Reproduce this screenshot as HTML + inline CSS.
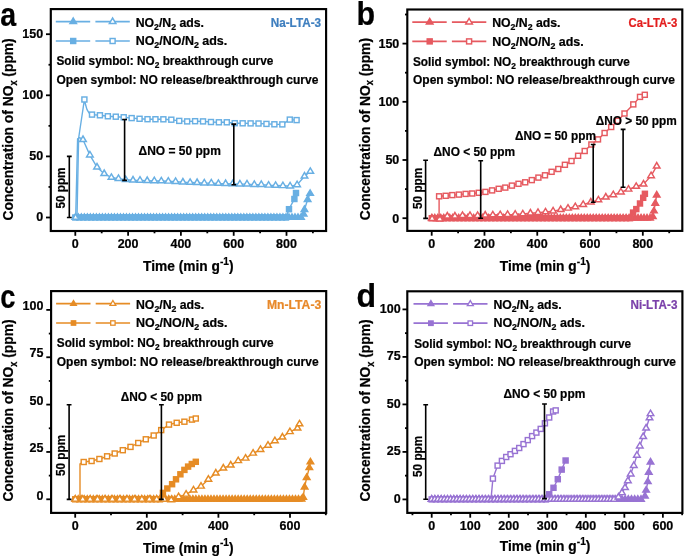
<!DOCTYPE html>
<html><head><meta charset="utf-8"><style>html,body{margin:0;padding:0;background:#fff;width:685px;height:558px;overflow:hidden}svg{display:block;will-change:transform}text{stroke-width:0.22px}</style></head>
<body>
<svg width="685" height="558" viewBox="0 0 685 558" font-family="Liberation Sans, sans-serif" font-weight="bold">
<rect width="685" height="558" fill="#fff"/>
<rect x="50.80" y="9.10" width="275.30" height="221.90" fill="none" stroke="#000" stroke-width="2.15"/>
<path d="M46.00,217.50H50.8" stroke="#000" stroke-width="1.8"/>
<text x="43.10" y="221.44" font-size="12.5" text-anchor="end" fill="#000"  stroke="#000">0</text>
<path d="M46.00,156.40H50.8" stroke="#000" stroke-width="1.8"/>
<text x="43.10" y="160.34" font-size="12.5" text-anchor="end" fill="#000"  stroke="#000">50</text>
<path d="M46.00,95.30H50.8" stroke="#000" stroke-width="1.8"/>
<text x="43.10" y="99.24" font-size="12.5" text-anchor="end" fill="#000"  stroke="#000">100</text>
<path d="M46.00,34.20H50.8" stroke="#000" stroke-width="1.8"/>
<text x="43.10" y="38.14" font-size="12.5" text-anchor="end" fill="#000"  stroke="#000">150</text>
<path d="M48.50,186.95H50.8" stroke="#000" stroke-width="1.8"/>
<path d="M48.50,125.85H50.8" stroke="#000" stroke-width="1.8"/>
<path d="M48.50,64.75H50.8" stroke="#000" stroke-width="1.8"/>
<path d="M75.30,231.0V235.80" stroke="#000" stroke-width="1.8"/>
<text x="75.30" y="248.30" font-size="12.5" text-anchor="middle" fill="#000"  stroke="#000">0</text>
<path d="M128.10,231.0V235.80" stroke="#000" stroke-width="1.8"/>
<text x="128.10" y="248.30" font-size="12.5" text-anchor="middle" fill="#000"  stroke="#000">200</text>
<path d="M180.90,231.0V235.80" stroke="#000" stroke-width="1.8"/>
<text x="180.90" y="248.30" font-size="12.5" text-anchor="middle" fill="#000"  stroke="#000">400</text>
<path d="M233.70,231.0V235.80" stroke="#000" stroke-width="1.8"/>
<text x="233.70" y="248.30" font-size="12.5" text-anchor="middle" fill="#000"  stroke="#000">600</text>
<path d="M286.50,231.0V235.80" stroke="#000" stroke-width="1.8"/>
<text x="286.50" y="248.30" font-size="12.5" text-anchor="middle" fill="#000"  stroke="#000">800</text>
<path d="M101.70,231.0V233.30" stroke="#000" stroke-width="1.8"/>
<path d="M154.50,231.0V233.30" stroke="#000" stroke-width="1.8"/>
<path d="M207.30,231.0V233.30" stroke="#000" stroke-width="1.8"/>
<path d="M260.10,231.0V233.30" stroke="#000" stroke-width="1.8"/>
<path d="M312.90,231.0V233.30" stroke="#000" stroke-width="1.8"/>
<polyline points="75.30,217.50 78.31,217.50 81.32,217.50 84.33,217.50 87.34,217.50 90.35,217.50 93.36,217.50 96.37,217.50 99.37,217.50 102.38,217.50 105.39,217.50 108.40,217.50 111.41,217.50 114.42,217.50 117.43,217.50 120.44,217.50 123.45,217.50 126.46,217.50 129.47,217.50 132.48,217.50 135.49,217.50 138.50,217.50 141.51,217.50 144.51,217.50 147.52,217.50 150.53,217.50 153.54,217.50 156.55,217.50 159.56,217.50 162.57,217.50 165.58,217.50 168.59,217.50 171.60,217.50 174.61,217.50 177.62,217.50 180.63,217.50 183.64,217.50 186.65,217.50 189.65,217.50 192.66,217.50 195.67,217.50 198.68,217.50 201.69,217.50 204.70,217.50 207.71,217.50 210.72,217.50 213.73,217.50 216.74,217.50 219.75,217.50 222.76,217.50 225.77,217.50 228.78,217.50 231.79,217.50 234.79,217.50 237.80,217.50 240.81,217.50 243.82,217.50 246.83,217.50 249.84,217.50 252.85,217.50 255.86,217.50 258.87,217.50 261.88,217.50 264.89,217.50 267.90,217.50 270.91,217.50 273.92,217.50 276.93,217.50 279.93,217.50 282.94,217.50 285.95,217.50 288.96,217.50 291.97,217.50 294.98,217.50 297.99,217.50 301.00,217.50 303.60,214.20 304.40,209.70 307.60,199.70 310.10,193.50" fill="none" stroke="#68AFE3" stroke-width="1.4" stroke-linejoin="round"/>
<path d="M72.00,219.33L75.30,213.83L78.60,219.33Z" fill="#68AFE3" stroke="#68AFE3" stroke-width="1.45" stroke-linejoin="miter"/>
<path d="M75.01,219.33L78.31,213.83L81.61,219.33Z" fill="#68AFE3" stroke="#68AFE3" stroke-width="1.45" stroke-linejoin="miter"/>
<path d="M78.02,219.33L81.32,213.83L84.62,219.33Z" fill="#68AFE3" stroke="#68AFE3" stroke-width="1.45" stroke-linejoin="miter"/>
<path d="M81.03,219.33L84.33,213.83L87.63,219.33Z" fill="#68AFE3" stroke="#68AFE3" stroke-width="1.45" stroke-linejoin="miter"/>
<path d="M84.04,219.33L87.34,213.83L90.64,219.33Z" fill="#68AFE3" stroke="#68AFE3" stroke-width="1.45" stroke-linejoin="miter"/>
<path d="M87.05,219.33L90.35,213.83L93.65,219.33Z" fill="#68AFE3" stroke="#68AFE3" stroke-width="1.45" stroke-linejoin="miter"/>
<path d="M90.06,219.33L93.36,213.83L96.66,219.33Z" fill="#68AFE3" stroke="#68AFE3" stroke-width="1.45" stroke-linejoin="miter"/>
<path d="M93.07,219.33L96.37,213.83L99.67,219.33Z" fill="#68AFE3" stroke="#68AFE3" stroke-width="1.45" stroke-linejoin="miter"/>
<path d="M96.07,219.33L99.37,213.83L102.67,219.33Z" fill="#68AFE3" stroke="#68AFE3" stroke-width="1.45" stroke-linejoin="miter"/>
<path d="M99.08,219.33L102.38,213.83L105.68,219.33Z" fill="#68AFE3" stroke="#68AFE3" stroke-width="1.45" stroke-linejoin="miter"/>
<path d="M102.09,219.33L105.39,213.83L108.69,219.33Z" fill="#68AFE3" stroke="#68AFE3" stroke-width="1.45" stroke-linejoin="miter"/>
<path d="M105.10,219.33L108.40,213.83L111.70,219.33Z" fill="#68AFE3" stroke="#68AFE3" stroke-width="1.45" stroke-linejoin="miter"/>
<path d="M108.11,219.33L111.41,213.83L114.71,219.33Z" fill="#68AFE3" stroke="#68AFE3" stroke-width="1.45" stroke-linejoin="miter"/>
<path d="M111.12,219.33L114.42,213.83L117.72,219.33Z" fill="#68AFE3" stroke="#68AFE3" stroke-width="1.45" stroke-linejoin="miter"/>
<path d="M114.13,219.33L117.43,213.83L120.73,219.33Z" fill="#68AFE3" stroke="#68AFE3" stroke-width="1.45" stroke-linejoin="miter"/>
<path d="M117.14,219.33L120.44,213.83L123.74,219.33Z" fill="#68AFE3" stroke="#68AFE3" stroke-width="1.45" stroke-linejoin="miter"/>
<path d="M120.15,219.33L123.45,213.83L126.75,219.33Z" fill="#68AFE3" stroke="#68AFE3" stroke-width="1.45" stroke-linejoin="miter"/>
<path d="M123.16,219.33L126.46,213.83L129.76,219.33Z" fill="#68AFE3" stroke="#68AFE3" stroke-width="1.45" stroke-linejoin="miter"/>
<path d="M126.17,219.33L129.47,213.83L132.77,219.33Z" fill="#68AFE3" stroke="#68AFE3" stroke-width="1.45" stroke-linejoin="miter"/>
<path d="M129.18,219.33L132.48,213.83L135.78,219.33Z" fill="#68AFE3" stroke="#68AFE3" stroke-width="1.45" stroke-linejoin="miter"/>
<path d="M132.19,219.33L135.49,213.83L138.79,219.33Z" fill="#68AFE3" stroke="#68AFE3" stroke-width="1.45" stroke-linejoin="miter"/>
<path d="M135.20,219.33L138.50,213.83L141.80,219.33Z" fill="#68AFE3" stroke="#68AFE3" stroke-width="1.45" stroke-linejoin="miter"/>
<path d="M138.21,219.33L141.51,213.83L144.81,219.33Z" fill="#68AFE3" stroke="#68AFE3" stroke-width="1.45" stroke-linejoin="miter"/>
<path d="M141.21,219.33L144.51,213.83L147.81,219.33Z" fill="#68AFE3" stroke="#68AFE3" stroke-width="1.45" stroke-linejoin="miter"/>
<path d="M144.22,219.33L147.52,213.83L150.82,219.33Z" fill="#68AFE3" stroke="#68AFE3" stroke-width="1.45" stroke-linejoin="miter"/>
<path d="M147.23,219.33L150.53,213.83L153.83,219.33Z" fill="#68AFE3" stroke="#68AFE3" stroke-width="1.45" stroke-linejoin="miter"/>
<path d="M150.24,219.33L153.54,213.83L156.84,219.33Z" fill="#68AFE3" stroke="#68AFE3" stroke-width="1.45" stroke-linejoin="miter"/>
<path d="M153.25,219.33L156.55,213.83L159.85,219.33Z" fill="#68AFE3" stroke="#68AFE3" stroke-width="1.45" stroke-linejoin="miter"/>
<path d="M156.26,219.33L159.56,213.83L162.86,219.33Z" fill="#68AFE3" stroke="#68AFE3" stroke-width="1.45" stroke-linejoin="miter"/>
<path d="M159.27,219.33L162.57,213.83L165.87,219.33Z" fill="#68AFE3" stroke="#68AFE3" stroke-width="1.45" stroke-linejoin="miter"/>
<path d="M162.28,219.33L165.58,213.83L168.88,219.33Z" fill="#68AFE3" stroke="#68AFE3" stroke-width="1.45" stroke-linejoin="miter"/>
<path d="M165.29,219.33L168.59,213.83L171.89,219.33Z" fill="#68AFE3" stroke="#68AFE3" stroke-width="1.45" stroke-linejoin="miter"/>
<path d="M168.30,219.33L171.60,213.83L174.90,219.33Z" fill="#68AFE3" stroke="#68AFE3" stroke-width="1.45" stroke-linejoin="miter"/>
<path d="M171.31,219.33L174.61,213.83L177.91,219.33Z" fill="#68AFE3" stroke="#68AFE3" stroke-width="1.45" stroke-linejoin="miter"/>
<path d="M174.32,219.33L177.62,213.83L180.92,219.33Z" fill="#68AFE3" stroke="#68AFE3" stroke-width="1.45" stroke-linejoin="miter"/>
<path d="M177.33,219.33L180.63,213.83L183.93,219.33Z" fill="#68AFE3" stroke="#68AFE3" stroke-width="1.45" stroke-linejoin="miter"/>
<path d="M180.34,219.33L183.64,213.83L186.94,219.33Z" fill="#68AFE3" stroke="#68AFE3" stroke-width="1.45" stroke-linejoin="miter"/>
<path d="M183.35,219.33L186.65,213.83L189.95,219.33Z" fill="#68AFE3" stroke="#68AFE3" stroke-width="1.45" stroke-linejoin="miter"/>
<path d="M186.35,219.33L189.65,213.83L192.95,219.33Z" fill="#68AFE3" stroke="#68AFE3" stroke-width="1.45" stroke-linejoin="miter"/>
<path d="M189.36,219.33L192.66,213.83L195.96,219.33Z" fill="#68AFE3" stroke="#68AFE3" stroke-width="1.45" stroke-linejoin="miter"/>
<path d="M192.37,219.33L195.67,213.83L198.97,219.33Z" fill="#68AFE3" stroke="#68AFE3" stroke-width="1.45" stroke-linejoin="miter"/>
<path d="M195.38,219.33L198.68,213.83L201.98,219.33Z" fill="#68AFE3" stroke="#68AFE3" stroke-width="1.45" stroke-linejoin="miter"/>
<path d="M198.39,219.33L201.69,213.83L204.99,219.33Z" fill="#68AFE3" stroke="#68AFE3" stroke-width="1.45" stroke-linejoin="miter"/>
<path d="M201.40,219.33L204.70,213.83L208.00,219.33Z" fill="#68AFE3" stroke="#68AFE3" stroke-width="1.45" stroke-linejoin="miter"/>
<path d="M204.41,219.33L207.71,213.83L211.01,219.33Z" fill="#68AFE3" stroke="#68AFE3" stroke-width="1.45" stroke-linejoin="miter"/>
<path d="M207.42,219.33L210.72,213.83L214.02,219.33Z" fill="#68AFE3" stroke="#68AFE3" stroke-width="1.45" stroke-linejoin="miter"/>
<path d="M210.43,219.33L213.73,213.83L217.03,219.33Z" fill="#68AFE3" stroke="#68AFE3" stroke-width="1.45" stroke-linejoin="miter"/>
<path d="M213.44,219.33L216.74,213.83L220.04,219.33Z" fill="#68AFE3" stroke="#68AFE3" stroke-width="1.45" stroke-linejoin="miter"/>
<path d="M216.45,219.33L219.75,213.83L223.05,219.33Z" fill="#68AFE3" stroke="#68AFE3" stroke-width="1.45" stroke-linejoin="miter"/>
<path d="M219.46,219.33L222.76,213.83L226.06,219.33Z" fill="#68AFE3" stroke="#68AFE3" stroke-width="1.45" stroke-linejoin="miter"/>
<path d="M222.47,219.33L225.77,213.83L229.07,219.33Z" fill="#68AFE3" stroke="#68AFE3" stroke-width="1.45" stroke-linejoin="miter"/>
<path d="M225.48,219.33L228.78,213.83L232.08,219.33Z" fill="#68AFE3" stroke="#68AFE3" stroke-width="1.45" stroke-linejoin="miter"/>
<path d="M228.49,219.33L231.79,213.83L235.09,219.33Z" fill="#68AFE3" stroke="#68AFE3" stroke-width="1.45" stroke-linejoin="miter"/>
<path d="M231.49,219.33L234.79,213.83L238.09,219.33Z" fill="#68AFE3" stroke="#68AFE3" stroke-width="1.45" stroke-linejoin="miter"/>
<path d="M234.50,219.33L237.80,213.83L241.10,219.33Z" fill="#68AFE3" stroke="#68AFE3" stroke-width="1.45" stroke-linejoin="miter"/>
<path d="M237.51,219.33L240.81,213.83L244.11,219.33Z" fill="#68AFE3" stroke="#68AFE3" stroke-width="1.45" stroke-linejoin="miter"/>
<path d="M240.52,219.33L243.82,213.83L247.12,219.33Z" fill="#68AFE3" stroke="#68AFE3" stroke-width="1.45" stroke-linejoin="miter"/>
<path d="M243.53,219.33L246.83,213.83L250.13,219.33Z" fill="#68AFE3" stroke="#68AFE3" stroke-width="1.45" stroke-linejoin="miter"/>
<path d="M246.54,219.33L249.84,213.83L253.14,219.33Z" fill="#68AFE3" stroke="#68AFE3" stroke-width="1.45" stroke-linejoin="miter"/>
<path d="M249.55,219.33L252.85,213.83L256.15,219.33Z" fill="#68AFE3" stroke="#68AFE3" stroke-width="1.45" stroke-linejoin="miter"/>
<path d="M252.56,219.33L255.86,213.83L259.16,219.33Z" fill="#68AFE3" stroke="#68AFE3" stroke-width="1.45" stroke-linejoin="miter"/>
<path d="M255.57,219.33L258.87,213.83L262.17,219.33Z" fill="#68AFE3" stroke="#68AFE3" stroke-width="1.45" stroke-linejoin="miter"/>
<path d="M258.58,219.33L261.88,213.83L265.18,219.33Z" fill="#68AFE3" stroke="#68AFE3" stroke-width="1.45" stroke-linejoin="miter"/>
<path d="M261.59,219.33L264.89,213.83L268.19,219.33Z" fill="#68AFE3" stroke="#68AFE3" stroke-width="1.45" stroke-linejoin="miter"/>
<path d="M264.60,219.33L267.90,213.83L271.20,219.33Z" fill="#68AFE3" stroke="#68AFE3" stroke-width="1.45" stroke-linejoin="miter"/>
<path d="M267.61,219.33L270.91,213.83L274.21,219.33Z" fill="#68AFE3" stroke="#68AFE3" stroke-width="1.45" stroke-linejoin="miter"/>
<path d="M270.62,219.33L273.92,213.83L277.22,219.33Z" fill="#68AFE3" stroke="#68AFE3" stroke-width="1.45" stroke-linejoin="miter"/>
<path d="M273.63,219.33L276.93,213.83L280.23,219.33Z" fill="#68AFE3" stroke="#68AFE3" stroke-width="1.45" stroke-linejoin="miter"/>
<path d="M276.63,219.33L279.93,213.83L283.23,219.33Z" fill="#68AFE3" stroke="#68AFE3" stroke-width="1.45" stroke-linejoin="miter"/>
<path d="M279.64,219.33L282.94,213.83L286.24,219.33Z" fill="#68AFE3" stroke="#68AFE3" stroke-width="1.45" stroke-linejoin="miter"/>
<path d="M282.65,219.33L285.95,213.83L289.25,219.33Z" fill="#68AFE3" stroke="#68AFE3" stroke-width="1.45" stroke-linejoin="miter"/>
<path d="M285.66,219.33L288.96,213.83L292.26,219.33Z" fill="#68AFE3" stroke="#68AFE3" stroke-width="1.45" stroke-linejoin="miter"/>
<path d="M288.67,219.33L291.97,213.83L295.27,219.33Z" fill="#68AFE3" stroke="#68AFE3" stroke-width="1.45" stroke-linejoin="miter"/>
<path d="M291.68,219.33L294.98,213.83L298.28,219.33Z" fill="#68AFE3" stroke="#68AFE3" stroke-width="1.45" stroke-linejoin="miter"/>
<path d="M294.69,219.33L297.99,213.83L301.29,219.33Z" fill="#68AFE3" stroke="#68AFE3" stroke-width="1.45" stroke-linejoin="miter"/>
<path d="M297.70,219.33L301.00,213.83L304.30,219.33Z" fill="#68AFE3" stroke="#68AFE3" stroke-width="1.45" stroke-linejoin="miter"/>
<path d="M300.30,216.03L303.60,210.53L306.90,216.03Z" fill="#68AFE3" stroke="#68AFE3" stroke-width="1.45" stroke-linejoin="miter"/>
<path d="M301.10,211.53L304.40,206.03L307.70,211.53Z" fill="#68AFE3" stroke="#68AFE3" stroke-width="1.45" stroke-linejoin="miter"/>
<path d="M304.30,201.53L307.60,196.03L310.90,201.53Z" fill="#68AFE3" stroke="#68AFE3" stroke-width="1.45" stroke-linejoin="miter"/>
<path d="M306.80,195.33L310.10,189.83L313.40,195.33Z" fill="#68AFE3" stroke="#68AFE3" stroke-width="1.45" stroke-linejoin="miter"/>
<polyline points="75.30,217.50 79.28,217.50 83.25,217.50 87.23,217.50 91.20,217.50 95.18,217.50 99.15,217.50 103.13,217.50 107.10,217.50 111.08,217.50 115.05,217.50 119.03,217.50 123.01,217.50 126.98,217.50 130.96,217.50 134.93,217.50 138.91,217.50 142.88,217.50 146.86,217.50 150.83,217.50 154.81,217.50 158.78,217.50 162.76,217.50 166.74,217.50 170.71,217.50 174.69,217.50 178.66,217.50 182.64,217.50 186.61,217.50 190.59,217.50 194.56,217.50 198.54,217.50 202.52,217.50 206.49,217.50 210.47,217.50 214.44,217.50 218.42,217.50 222.39,217.50 226.37,217.50 230.34,217.50 234.32,217.50 238.29,217.50 242.27,217.50 246.25,217.50 250.22,217.50 254.20,217.50 258.17,217.50 262.15,217.50 266.12,217.50 270.10,217.50 274.07,217.50 278.05,217.50 282.02,217.50 286.00,217.50 289.00,209.20 294.40,199.00 296.00,193.00" fill="none" stroke="#68AFE3" stroke-width="1.4" stroke-linejoin="round"/>
<rect x="72.80" y="215.00" width="5.0" height="5.0" fill="#68AFE3" stroke="#68AFE3" stroke-width="1.45"/>
<rect x="76.78" y="215.00" width="5.0" height="5.0" fill="#68AFE3" stroke="#68AFE3" stroke-width="1.45"/>
<rect x="80.75" y="215.00" width="5.0" height="5.0" fill="#68AFE3" stroke="#68AFE3" stroke-width="1.45"/>
<rect x="84.73" y="215.00" width="5.0" height="5.0" fill="#68AFE3" stroke="#68AFE3" stroke-width="1.45"/>
<rect x="88.70" y="215.00" width="5.0" height="5.0" fill="#68AFE3" stroke="#68AFE3" stroke-width="1.45"/>
<rect x="92.68" y="215.00" width="5.0" height="5.0" fill="#68AFE3" stroke="#68AFE3" stroke-width="1.45"/>
<rect x="96.65" y="215.00" width="5.0" height="5.0" fill="#68AFE3" stroke="#68AFE3" stroke-width="1.45"/>
<rect x="100.63" y="215.00" width="5.0" height="5.0" fill="#68AFE3" stroke="#68AFE3" stroke-width="1.45"/>
<rect x="104.60" y="215.00" width="5.0" height="5.0" fill="#68AFE3" stroke="#68AFE3" stroke-width="1.45"/>
<rect x="108.58" y="215.00" width="5.0" height="5.0" fill="#68AFE3" stroke="#68AFE3" stroke-width="1.45"/>
<rect x="112.55" y="215.00" width="5.0" height="5.0" fill="#68AFE3" stroke="#68AFE3" stroke-width="1.45"/>
<rect x="116.53" y="215.00" width="5.0" height="5.0" fill="#68AFE3" stroke="#68AFE3" stroke-width="1.45"/>
<rect x="120.51" y="215.00" width="5.0" height="5.0" fill="#68AFE3" stroke="#68AFE3" stroke-width="1.45"/>
<rect x="124.48" y="215.00" width="5.0" height="5.0" fill="#68AFE3" stroke="#68AFE3" stroke-width="1.45"/>
<rect x="128.46" y="215.00" width="5.0" height="5.0" fill="#68AFE3" stroke="#68AFE3" stroke-width="1.45"/>
<rect x="132.43" y="215.00" width="5.0" height="5.0" fill="#68AFE3" stroke="#68AFE3" stroke-width="1.45"/>
<rect x="136.41" y="215.00" width="5.0" height="5.0" fill="#68AFE3" stroke="#68AFE3" stroke-width="1.45"/>
<rect x="140.38" y="215.00" width="5.0" height="5.0" fill="#68AFE3" stroke="#68AFE3" stroke-width="1.45"/>
<rect x="144.36" y="215.00" width="5.0" height="5.0" fill="#68AFE3" stroke="#68AFE3" stroke-width="1.45"/>
<rect x="148.33" y="215.00" width="5.0" height="5.0" fill="#68AFE3" stroke="#68AFE3" stroke-width="1.45"/>
<rect x="152.31" y="215.00" width="5.0" height="5.0" fill="#68AFE3" stroke="#68AFE3" stroke-width="1.45"/>
<rect x="156.28" y="215.00" width="5.0" height="5.0" fill="#68AFE3" stroke="#68AFE3" stroke-width="1.45"/>
<rect x="160.26" y="215.00" width="5.0" height="5.0" fill="#68AFE3" stroke="#68AFE3" stroke-width="1.45"/>
<rect x="164.24" y="215.00" width="5.0" height="5.0" fill="#68AFE3" stroke="#68AFE3" stroke-width="1.45"/>
<rect x="168.21" y="215.00" width="5.0" height="5.0" fill="#68AFE3" stroke="#68AFE3" stroke-width="1.45"/>
<rect x="172.19" y="215.00" width="5.0" height="5.0" fill="#68AFE3" stroke="#68AFE3" stroke-width="1.45"/>
<rect x="176.16" y="215.00" width="5.0" height="5.0" fill="#68AFE3" stroke="#68AFE3" stroke-width="1.45"/>
<rect x="180.14" y="215.00" width="5.0" height="5.0" fill="#68AFE3" stroke="#68AFE3" stroke-width="1.45"/>
<rect x="184.11" y="215.00" width="5.0" height="5.0" fill="#68AFE3" stroke="#68AFE3" stroke-width="1.45"/>
<rect x="188.09" y="215.00" width="5.0" height="5.0" fill="#68AFE3" stroke="#68AFE3" stroke-width="1.45"/>
<rect x="192.06" y="215.00" width="5.0" height="5.0" fill="#68AFE3" stroke="#68AFE3" stroke-width="1.45"/>
<rect x="196.04" y="215.00" width="5.0" height="5.0" fill="#68AFE3" stroke="#68AFE3" stroke-width="1.45"/>
<rect x="200.02" y="215.00" width="5.0" height="5.0" fill="#68AFE3" stroke="#68AFE3" stroke-width="1.45"/>
<rect x="203.99" y="215.00" width="5.0" height="5.0" fill="#68AFE3" stroke="#68AFE3" stroke-width="1.45"/>
<rect x="207.97" y="215.00" width="5.0" height="5.0" fill="#68AFE3" stroke="#68AFE3" stroke-width="1.45"/>
<rect x="211.94" y="215.00" width="5.0" height="5.0" fill="#68AFE3" stroke="#68AFE3" stroke-width="1.45"/>
<rect x="215.92" y="215.00" width="5.0" height="5.0" fill="#68AFE3" stroke="#68AFE3" stroke-width="1.45"/>
<rect x="219.89" y="215.00" width="5.0" height="5.0" fill="#68AFE3" stroke="#68AFE3" stroke-width="1.45"/>
<rect x="223.87" y="215.00" width="5.0" height="5.0" fill="#68AFE3" stroke="#68AFE3" stroke-width="1.45"/>
<rect x="227.84" y="215.00" width="5.0" height="5.0" fill="#68AFE3" stroke="#68AFE3" stroke-width="1.45"/>
<rect x="231.82" y="215.00" width="5.0" height="5.0" fill="#68AFE3" stroke="#68AFE3" stroke-width="1.45"/>
<rect x="235.79" y="215.00" width="5.0" height="5.0" fill="#68AFE3" stroke="#68AFE3" stroke-width="1.45"/>
<rect x="239.77" y="215.00" width="5.0" height="5.0" fill="#68AFE3" stroke="#68AFE3" stroke-width="1.45"/>
<rect x="243.75" y="215.00" width="5.0" height="5.0" fill="#68AFE3" stroke="#68AFE3" stroke-width="1.45"/>
<rect x="247.72" y="215.00" width="5.0" height="5.0" fill="#68AFE3" stroke="#68AFE3" stroke-width="1.45"/>
<rect x="251.70" y="215.00" width="5.0" height="5.0" fill="#68AFE3" stroke="#68AFE3" stroke-width="1.45"/>
<rect x="255.67" y="215.00" width="5.0" height="5.0" fill="#68AFE3" stroke="#68AFE3" stroke-width="1.45"/>
<rect x="259.65" y="215.00" width="5.0" height="5.0" fill="#68AFE3" stroke="#68AFE3" stroke-width="1.45"/>
<rect x="263.62" y="215.00" width="5.0" height="5.0" fill="#68AFE3" stroke="#68AFE3" stroke-width="1.45"/>
<rect x="267.60" y="215.00" width="5.0" height="5.0" fill="#68AFE3" stroke="#68AFE3" stroke-width="1.45"/>
<rect x="271.57" y="215.00" width="5.0" height="5.0" fill="#68AFE3" stroke="#68AFE3" stroke-width="1.45"/>
<rect x="275.55" y="215.00" width="5.0" height="5.0" fill="#68AFE3" stroke="#68AFE3" stroke-width="1.45"/>
<rect x="279.52" y="215.00" width="5.0" height="5.0" fill="#68AFE3" stroke="#68AFE3" stroke-width="1.45"/>
<rect x="283.50" y="215.00" width="5.0" height="5.0" fill="#68AFE3" stroke="#68AFE3" stroke-width="1.45"/>
<rect x="286.50" y="206.70" width="5.0" height="5.0" fill="#68AFE3" stroke="#68AFE3" stroke-width="1.45"/>
<rect x="291.90" y="196.50" width="5.0" height="5.0" fill="#68AFE3" stroke="#68AFE3" stroke-width="1.45"/>
<rect x="293.50" y="190.50" width="5.0" height="5.0" fill="#68AFE3" stroke="#68AFE3" stroke-width="1.45"/>
<polyline points="75.70,217.50 77.60,138.80 79.60,137.60 83.00,139.70 89.90,155.10 97.00,167.20 104.20,173.70 111.40,177.50 118.50,178.60 125.70,179.80 133.00,180.20 140.00,180.40 147.20,180.70 154.30,180.90 161.30,181.00 168.30,181.30 175.60,181.60 182.90,182.20 190.10,182.50 197.10,182.70 204.30,183.10 211.30,183.10 218.40,183.50 225.60,183.70 232.70,183.90 239.90,184.10 247.00,184.10 254.30,184.60 261.30,184.60 268.60,185.30 275.60,185.50 282.90,185.80 290.10,186.10 297.10,184.90 304.50,176.20 310.30,171.50" fill="none" stroke="#68AFE3" stroke-width="1.4" stroke-linejoin="round"/>
<path d="M72.40,219.33L75.70,213.83L79.00,219.33Z" fill="#fff" stroke="#68AFE3" stroke-width="1.45" stroke-linejoin="miter"/>
<path d="M79.70,141.53L83.00,136.03L86.30,141.53Z" fill="#fff" stroke="#68AFE3" stroke-width="1.45" stroke-linejoin="miter"/>
<path d="M86.60,156.93L89.90,151.43L93.20,156.93Z" fill="#fff" stroke="#68AFE3" stroke-width="1.45" stroke-linejoin="miter"/>
<path d="M93.70,169.03L97.00,163.53L100.30,169.03Z" fill="#fff" stroke="#68AFE3" stroke-width="1.45" stroke-linejoin="miter"/>
<path d="M100.90,175.53L104.20,170.03L107.50,175.53Z" fill="#fff" stroke="#68AFE3" stroke-width="1.45" stroke-linejoin="miter"/>
<path d="M108.10,179.33L111.40,173.83L114.70,179.33Z" fill="#fff" stroke="#68AFE3" stroke-width="1.45" stroke-linejoin="miter"/>
<path d="M115.20,180.43L118.50,174.93L121.80,180.43Z" fill="#fff" stroke="#68AFE3" stroke-width="1.45" stroke-linejoin="miter"/>
<path d="M122.40,181.63L125.70,176.13L129.00,181.63Z" fill="#fff" stroke="#68AFE3" stroke-width="1.45" stroke-linejoin="miter"/>
<path d="M129.70,182.03L133.00,176.53L136.30,182.03Z" fill="#fff" stroke="#68AFE3" stroke-width="1.45" stroke-linejoin="miter"/>
<path d="M136.70,182.23L140.00,176.73L143.30,182.23Z" fill="#fff" stroke="#68AFE3" stroke-width="1.45" stroke-linejoin="miter"/>
<path d="M143.90,182.53L147.20,177.03L150.50,182.53Z" fill="#fff" stroke="#68AFE3" stroke-width="1.45" stroke-linejoin="miter"/>
<path d="M151.00,182.73L154.30,177.23L157.60,182.73Z" fill="#fff" stroke="#68AFE3" stroke-width="1.45" stroke-linejoin="miter"/>
<path d="M158.00,182.83L161.30,177.33L164.60,182.83Z" fill="#fff" stroke="#68AFE3" stroke-width="1.45" stroke-linejoin="miter"/>
<path d="M165.00,183.13L168.30,177.63L171.60,183.13Z" fill="#fff" stroke="#68AFE3" stroke-width="1.45" stroke-linejoin="miter"/>
<path d="M172.30,183.43L175.60,177.93L178.90,183.43Z" fill="#fff" stroke="#68AFE3" stroke-width="1.45" stroke-linejoin="miter"/>
<path d="M179.60,184.03L182.90,178.53L186.20,184.03Z" fill="#fff" stroke="#68AFE3" stroke-width="1.45" stroke-linejoin="miter"/>
<path d="M186.80,184.33L190.10,178.83L193.40,184.33Z" fill="#fff" stroke="#68AFE3" stroke-width="1.45" stroke-linejoin="miter"/>
<path d="M193.80,184.53L197.10,179.03L200.40,184.53Z" fill="#fff" stroke="#68AFE3" stroke-width="1.45" stroke-linejoin="miter"/>
<path d="M201.00,184.93L204.30,179.43L207.60,184.93Z" fill="#fff" stroke="#68AFE3" stroke-width="1.45" stroke-linejoin="miter"/>
<path d="M208.00,184.93L211.30,179.43L214.60,184.93Z" fill="#fff" stroke="#68AFE3" stroke-width="1.45" stroke-linejoin="miter"/>
<path d="M215.10,185.33L218.40,179.83L221.70,185.33Z" fill="#fff" stroke="#68AFE3" stroke-width="1.45" stroke-linejoin="miter"/>
<path d="M222.30,185.53L225.60,180.03L228.90,185.53Z" fill="#fff" stroke="#68AFE3" stroke-width="1.45" stroke-linejoin="miter"/>
<path d="M229.40,185.73L232.70,180.23L236.00,185.73Z" fill="#fff" stroke="#68AFE3" stroke-width="1.45" stroke-linejoin="miter"/>
<path d="M236.60,185.93L239.90,180.43L243.20,185.93Z" fill="#fff" stroke="#68AFE3" stroke-width="1.45" stroke-linejoin="miter"/>
<path d="M243.70,185.93L247.00,180.43L250.30,185.93Z" fill="#fff" stroke="#68AFE3" stroke-width="1.45" stroke-linejoin="miter"/>
<path d="M251.00,186.43L254.30,180.93L257.60,186.43Z" fill="#fff" stroke="#68AFE3" stroke-width="1.45" stroke-linejoin="miter"/>
<path d="M258.00,186.43L261.30,180.93L264.60,186.43Z" fill="#fff" stroke="#68AFE3" stroke-width="1.45" stroke-linejoin="miter"/>
<path d="M265.30,187.13L268.60,181.63L271.90,187.13Z" fill="#fff" stroke="#68AFE3" stroke-width="1.45" stroke-linejoin="miter"/>
<path d="M272.30,187.33L275.60,181.83L278.90,187.33Z" fill="#fff" stroke="#68AFE3" stroke-width="1.45" stroke-linejoin="miter"/>
<path d="M279.60,187.63L282.90,182.13L286.20,187.63Z" fill="#fff" stroke="#68AFE3" stroke-width="1.45" stroke-linejoin="miter"/>
<path d="M286.80,187.93L290.10,182.43L293.40,187.93Z" fill="#fff" stroke="#68AFE3" stroke-width="1.45" stroke-linejoin="miter"/>
<path d="M293.80,186.73L297.10,181.23L300.40,186.73Z" fill="#fff" stroke="#68AFE3" stroke-width="1.45" stroke-linejoin="miter"/>
<path d="M301.20,178.03L304.50,172.53L307.80,178.03Z" fill="#fff" stroke="#68AFE3" stroke-width="1.45" stroke-linejoin="miter"/>
<path d="M307.00,173.33L310.30,167.83L313.60,173.33Z" fill="#fff" stroke="#68AFE3" stroke-width="1.45" stroke-linejoin="miter"/>
<polyline points="77.00,217.50 78.60,138.50 84.40,99.50 85.60,104.80 87.00,109.60 89.00,112.90 92.00,114.60 92.00,114.60 99.93,115.28 107.86,116.27 115.79,116.69 123.72,117.27 131.65,118.09 139.58,118.77 147.51,119.19 155.44,119.25 163.37,119.30 171.30,119.69 179.23,120.89 187.16,121.40 195.09,121.20 203.02,121.40 210.95,122.01 218.88,122.30 226.81,122.30 234.74,123.20 242.67,123.30 250.60,123.39 258.53,123.50 266.46,123.91 274.39,124.29 282.32,124.40 289.80,119.60 296.60,120.10" fill="none" stroke="#68AFE3" stroke-width="1.4" stroke-linejoin="round"/>
<rect x="81.90" y="97.00" width="5.0" height="5.0" fill="#fff" stroke="#68AFE3" stroke-width="1.45"/>
<rect x="89.50" y="112.10" width="5.0" height="5.0" fill="#fff" stroke="#68AFE3" stroke-width="1.45"/>
<rect x="97.43" y="112.78" width="5.0" height="5.0" fill="#fff" stroke="#68AFE3" stroke-width="1.45"/>
<rect x="105.36" y="113.77" width="5.0" height="5.0" fill="#fff" stroke="#68AFE3" stroke-width="1.45"/>
<rect x="113.29" y="114.19" width="5.0" height="5.0" fill="#fff" stroke="#68AFE3" stroke-width="1.45"/>
<rect x="121.22" y="114.77" width="5.0" height="5.0" fill="#fff" stroke="#68AFE3" stroke-width="1.45"/>
<rect x="129.15" y="115.59" width="5.0" height="5.0" fill="#fff" stroke="#68AFE3" stroke-width="1.45"/>
<rect x="137.08" y="116.27" width="5.0" height="5.0" fill="#fff" stroke="#68AFE3" stroke-width="1.45"/>
<rect x="145.01" y="116.69" width="5.0" height="5.0" fill="#fff" stroke="#68AFE3" stroke-width="1.45"/>
<rect x="152.94" y="116.75" width="5.0" height="5.0" fill="#fff" stroke="#68AFE3" stroke-width="1.45"/>
<rect x="160.87" y="116.80" width="5.0" height="5.0" fill="#fff" stroke="#68AFE3" stroke-width="1.45"/>
<rect x="168.80" y="117.19" width="5.0" height="5.0" fill="#fff" stroke="#68AFE3" stroke-width="1.45"/>
<rect x="176.73" y="118.39" width="5.0" height="5.0" fill="#fff" stroke="#68AFE3" stroke-width="1.45"/>
<rect x="184.66" y="118.90" width="5.0" height="5.0" fill="#fff" stroke="#68AFE3" stroke-width="1.45"/>
<rect x="192.59" y="118.70" width="5.0" height="5.0" fill="#fff" stroke="#68AFE3" stroke-width="1.45"/>
<rect x="200.52" y="118.90" width="5.0" height="5.0" fill="#fff" stroke="#68AFE3" stroke-width="1.45"/>
<rect x="208.45" y="119.51" width="5.0" height="5.0" fill="#fff" stroke="#68AFE3" stroke-width="1.45"/>
<rect x="216.38" y="119.80" width="5.0" height="5.0" fill="#fff" stroke="#68AFE3" stroke-width="1.45"/>
<rect x="224.31" y="119.80" width="5.0" height="5.0" fill="#fff" stroke="#68AFE3" stroke-width="1.45"/>
<rect x="232.24" y="120.70" width="5.0" height="5.0" fill="#fff" stroke="#68AFE3" stroke-width="1.45"/>
<rect x="240.17" y="120.80" width="5.0" height="5.0" fill="#fff" stroke="#68AFE3" stroke-width="1.45"/>
<rect x="248.10" y="120.89" width="5.0" height="5.0" fill="#fff" stroke="#68AFE3" stroke-width="1.45"/>
<rect x="256.03" y="121.00" width="5.0" height="5.0" fill="#fff" stroke="#68AFE3" stroke-width="1.45"/>
<rect x="263.96" y="121.41" width="5.0" height="5.0" fill="#fff" stroke="#68AFE3" stroke-width="1.45"/>
<rect x="271.89" y="121.79" width="5.0" height="5.0" fill="#fff" stroke="#68AFE3" stroke-width="1.45"/>
<rect x="279.82" y="121.90" width="5.0" height="5.0" fill="#fff" stroke="#68AFE3" stroke-width="1.45"/>
<rect x="287.30" y="117.10" width="5.0" height="5.0" fill="#fff" stroke="#68AFE3" stroke-width="1.45"/>
<rect x="294.10" y="117.60" width="5.0" height="5.0" fill="#fff" stroke="#68AFE3" stroke-width="1.45"/>
<path d="M69.30,156.40V217.50M66.90,156.40H71.70M66.90,217.50H71.70" stroke="#000" stroke-width="1.6" fill="none"/>
<path d="M124.60,119.50V180.40M122.20,119.50H127.00M122.20,180.40H127.00" stroke="#000" stroke-width="1.6" fill="none"/>
<path d="M233.80,124.10V184.80M231.40,124.10H236.20M231.40,184.80H236.20" stroke="#000" stroke-width="1.6" fill="none"/>
<text x="138.60" y="155.20" font-size="12.4" text-anchor="start" fill="#000" textLength="82.20" lengthAdjust="spacingAndGlyphs"  stroke="#000">ΔNO = 50 ppm</text>
<text transform="translate(64.9,208.5) rotate(-90)" font-size="12.2" textLength="41" lengthAdjust="spacingAndGlyphs" stroke="#000">50 ppm</text>
<path d="M55.80,21.70H90.20M95.40,21.70H129.80" stroke="#68AFE3" stroke-width="1.7"/>
<g transform="translate(73.20,21.70) scale(1.0)"><path d="M-3.30,1.83L0.00,-3.67L3.30,1.83Z" fill="#68AFE3" stroke="#68AFE3" stroke-width="1.45" stroke-linejoin="miter"/></g>
<g transform="translate(112.60,21.70) scale(1.0)"><path d="M-3.30,1.83L0.00,-3.67L3.30,1.83Z" fill="#fff" stroke="#68AFE3" stroke-width="1.45" stroke-linejoin="miter"/></g>
<path d="M55.80,41.00H90.20M95.40,41.00H129.80" stroke="#68AFE3" stroke-width="1.7"/>
<g transform="translate(73.20,41.00) scale(1.0)"><rect x="-2.50" y="-2.50" width="5.0" height="5.0" fill="#68AFE3" stroke="#68AFE3" stroke-width="1.45"/></g>
<g transform="translate(112.60,41.00) scale(1.0)"><rect x="-2.50" y="-2.50" width="5.0" height="5.0" fill="#fff" stroke="#68AFE3" stroke-width="1.45"/></g>
<text x="135.70" y="26.50" font-size="12" textLength="68.3" lengthAdjust="spacingAndGlyphs" stroke="#000">NO<tspan font-size="8.5" dy="3">2</tspan><tspan dy="-3">/N</tspan><tspan font-size="8.5" dy="3">2</tspan><tspan dy="-3"> ads.</tspan></text>
<text x="135.70" y="45.20" font-size="12" textLength="91.5" lengthAdjust="spacingAndGlyphs" stroke="#000">NO<tspan font-size="8.5" dy="3">2</tspan><tspan dy="-3">/NO/N</tspan><tspan font-size="8.5" dy="3">2</tspan><tspan dy="-3"> ads.</tspan></text>
<text x="56.50" y="65.40" font-size="12" textLength="216.8" lengthAdjust="spacingAndGlyphs" stroke="#000">Solid symbol: NO<tspan font-size="8.5" dy="3">2</tspan><tspan dy="-3"> breakthrough curve</tspan></text>
<text x="56.50" y="83.80" font-size="12" textLength="261.8" lengthAdjust="spacingAndGlyphs" stroke="#000">Open symbol: NO release/breakthrough curve</text>
<text x="321.10" y="26.60" font-size="12.2" text-anchor="end" fill="#3F7FBF" textLength="50.40" lengthAdjust="spacingAndGlyphs" stroke="#3F7FBF">Na-LTA-3</text>
<text x="143.10" y="270.90" font-size="13.9" textLength="90.50" lengthAdjust="spacingAndGlyphs" stroke="#000">Time (min g<tspan font-size="10.3" dy="-6.3">-1</tspan><tspan dy="6.3">)</tspan></text>
<text transform="translate(12.90,220.50) rotate(-90)" x="0" y="0" font-size="15" textLength="182.2" lengthAdjust="spacingAndGlyphs" stroke="#000">Concentration of NO<tspan font-size="10" dy="3.8">x</tspan><tspan dy="-3.8"> (ppm)</tspan></text>
<text x="0.30" y="25.50" font-size="33.2" textLength="15.90" lengthAdjust="spacingAndGlyphs" stroke="#000">a</text>
<rect x="407.30" y="9.50" width="275.00" height="221.40" fill="none" stroke="#000" stroke-width="2.15"/>
<path d="M402.50,218.20H407.3" stroke="#000" stroke-width="1.8"/>
<text x="399.30" y="222.64" font-size="12.5" text-anchor="end" fill="#000"  stroke="#000">0</text>
<path d="M402.50,160.00H407.3" stroke="#000" stroke-width="1.8"/>
<text x="399.30" y="164.44" font-size="12.5" text-anchor="end" fill="#000"  stroke="#000">50</text>
<path d="M402.50,101.80H407.3" stroke="#000" stroke-width="1.8"/>
<text x="399.30" y="106.24" font-size="12.5" text-anchor="end" fill="#000"  stroke="#000">100</text>
<path d="M402.50,43.60H407.3" stroke="#000" stroke-width="1.8"/>
<text x="399.30" y="48.04" font-size="12.5" text-anchor="end" fill="#000"  stroke="#000">150</text>
<path d="M405.00,189.10H407.3" stroke="#000" stroke-width="1.8"/>
<path d="M405.00,130.90H407.3" stroke="#000" stroke-width="1.8"/>
<path d="M405.00,72.70H407.3" stroke="#000" stroke-width="1.8"/>
<path d="M405.00,14.50H407.3" stroke="#000" stroke-width="1.8"/>
<path d="M431.70,230.9V235.70" stroke="#000" stroke-width="1.8"/>
<text x="431.70" y="248.20" font-size="12.5" text-anchor="middle" fill="#000"  stroke="#000">0</text>
<path d="M484.48,230.9V235.70" stroke="#000" stroke-width="1.8"/>
<text x="484.48" y="248.20" font-size="12.5" text-anchor="middle" fill="#000"  stroke="#000">200</text>
<path d="M537.26,230.9V235.70" stroke="#000" stroke-width="1.8"/>
<text x="537.26" y="248.20" font-size="12.5" text-anchor="middle" fill="#000"  stroke="#000">400</text>
<path d="M590.04,230.9V235.70" stroke="#000" stroke-width="1.8"/>
<text x="590.04" y="248.20" font-size="12.5" text-anchor="middle" fill="#000"  stroke="#000">600</text>
<path d="M642.82,230.9V235.70" stroke="#000" stroke-width="1.8"/>
<text x="642.82" y="248.20" font-size="12.5" text-anchor="middle" fill="#000"  stroke="#000">800</text>
<path d="M458.09,230.9V233.20" stroke="#000" stroke-width="1.8"/>
<path d="M510.87,230.9V233.20" stroke="#000" stroke-width="1.8"/>
<path d="M563.65,230.9V233.20" stroke="#000" stroke-width="1.8"/>
<path d="M616.43,230.9V233.20" stroke="#000" stroke-width="1.8"/>
<path d="M669.21,230.9V233.20" stroke="#000" stroke-width="1.8"/>
<polyline points="431.80,218.20 434.79,218.20 437.78,218.20 440.77,218.20 443.76,218.20 446.75,218.20 449.73,218.20 452.72,218.20 455.71,218.20 458.70,218.20 461.69,218.20 464.68,218.20 467.67,218.20 470.66,218.20 473.65,218.20 476.64,218.20 479.62,218.20 482.61,218.20 485.60,218.20 488.59,218.20 491.58,218.20 494.57,218.20 497.56,218.20 500.55,218.20 503.54,218.20 506.53,218.20 509.52,218.20 512.50,218.20 515.49,218.20 518.48,218.20 521.47,218.20 524.46,218.20 527.45,218.20 530.44,218.20 533.43,218.20 536.42,218.20 539.41,218.20 542.39,218.20 545.38,218.20 548.37,218.20 551.36,218.20 554.35,218.20 557.34,218.20 560.33,218.20 563.32,218.20 566.31,218.20 569.30,218.20 572.28,218.20 575.27,218.20 578.26,218.20 581.25,218.20 584.24,218.20 587.23,218.20 590.22,218.20 593.21,218.20 596.20,218.20 599.19,218.20 602.18,218.20 605.16,218.20 608.15,218.20 611.14,218.20 614.13,218.20 617.12,218.20 620.11,218.20 623.10,218.20 626.09,218.20 629.08,218.20 632.07,218.20 635.05,218.20 638.04,218.20 641.03,218.20 644.02,218.20 647.01,218.20 650.00,218.20 652.80,216.70 653.90,211.00 655.30,203.40 656.70,195.20" fill="none" stroke="#E65A60" stroke-width="1.4" stroke-linejoin="round"/>
<path d="M428.50,220.03L431.80,214.53L435.10,220.03Z" fill="#E65A60" stroke="#E65A60" stroke-width="1.45" stroke-linejoin="miter"/>
<path d="M431.49,220.03L434.79,214.53L438.09,220.03Z" fill="#E65A60" stroke="#E65A60" stroke-width="1.45" stroke-linejoin="miter"/>
<path d="M434.48,220.03L437.78,214.53L441.08,220.03Z" fill="#E65A60" stroke="#E65A60" stroke-width="1.45" stroke-linejoin="miter"/>
<path d="M437.47,220.03L440.77,214.53L444.07,220.03Z" fill="#E65A60" stroke="#E65A60" stroke-width="1.45" stroke-linejoin="miter"/>
<path d="M440.46,220.03L443.76,214.53L447.06,220.03Z" fill="#E65A60" stroke="#E65A60" stroke-width="1.45" stroke-linejoin="miter"/>
<path d="M443.45,220.03L446.75,214.53L450.05,220.03Z" fill="#E65A60" stroke="#E65A60" stroke-width="1.45" stroke-linejoin="miter"/>
<path d="M446.43,220.03L449.73,214.53L453.03,220.03Z" fill="#E65A60" stroke="#E65A60" stroke-width="1.45" stroke-linejoin="miter"/>
<path d="M449.42,220.03L452.72,214.53L456.02,220.03Z" fill="#E65A60" stroke="#E65A60" stroke-width="1.45" stroke-linejoin="miter"/>
<path d="M452.41,220.03L455.71,214.53L459.01,220.03Z" fill="#E65A60" stroke="#E65A60" stroke-width="1.45" stroke-linejoin="miter"/>
<path d="M455.40,220.03L458.70,214.53L462.00,220.03Z" fill="#E65A60" stroke="#E65A60" stroke-width="1.45" stroke-linejoin="miter"/>
<path d="M458.39,220.03L461.69,214.53L464.99,220.03Z" fill="#E65A60" stroke="#E65A60" stroke-width="1.45" stroke-linejoin="miter"/>
<path d="M461.38,220.03L464.68,214.53L467.98,220.03Z" fill="#E65A60" stroke="#E65A60" stroke-width="1.45" stroke-linejoin="miter"/>
<path d="M464.37,220.03L467.67,214.53L470.97,220.03Z" fill="#E65A60" stroke="#E65A60" stroke-width="1.45" stroke-linejoin="miter"/>
<path d="M467.36,220.03L470.66,214.53L473.96,220.03Z" fill="#E65A60" stroke="#E65A60" stroke-width="1.45" stroke-linejoin="miter"/>
<path d="M470.35,220.03L473.65,214.53L476.95,220.03Z" fill="#E65A60" stroke="#E65A60" stroke-width="1.45" stroke-linejoin="miter"/>
<path d="M473.34,220.03L476.64,214.53L479.94,220.03Z" fill="#E65A60" stroke="#E65A60" stroke-width="1.45" stroke-linejoin="miter"/>
<path d="M476.32,220.03L479.62,214.53L482.92,220.03Z" fill="#E65A60" stroke="#E65A60" stroke-width="1.45" stroke-linejoin="miter"/>
<path d="M479.31,220.03L482.61,214.53L485.91,220.03Z" fill="#E65A60" stroke="#E65A60" stroke-width="1.45" stroke-linejoin="miter"/>
<path d="M482.30,220.03L485.60,214.53L488.90,220.03Z" fill="#E65A60" stroke="#E65A60" stroke-width="1.45" stroke-linejoin="miter"/>
<path d="M485.29,220.03L488.59,214.53L491.89,220.03Z" fill="#E65A60" stroke="#E65A60" stroke-width="1.45" stroke-linejoin="miter"/>
<path d="M488.28,220.03L491.58,214.53L494.88,220.03Z" fill="#E65A60" stroke="#E65A60" stroke-width="1.45" stroke-linejoin="miter"/>
<path d="M491.27,220.03L494.57,214.53L497.87,220.03Z" fill="#E65A60" stroke="#E65A60" stroke-width="1.45" stroke-linejoin="miter"/>
<path d="M494.26,220.03L497.56,214.53L500.86,220.03Z" fill="#E65A60" stroke="#E65A60" stroke-width="1.45" stroke-linejoin="miter"/>
<path d="M497.25,220.03L500.55,214.53L503.85,220.03Z" fill="#E65A60" stroke="#E65A60" stroke-width="1.45" stroke-linejoin="miter"/>
<path d="M500.24,220.03L503.54,214.53L506.84,220.03Z" fill="#E65A60" stroke="#E65A60" stroke-width="1.45" stroke-linejoin="miter"/>
<path d="M503.23,220.03L506.53,214.53L509.83,220.03Z" fill="#E65A60" stroke="#E65A60" stroke-width="1.45" stroke-linejoin="miter"/>
<path d="M506.22,220.03L509.52,214.53L512.82,220.03Z" fill="#E65A60" stroke="#E65A60" stroke-width="1.45" stroke-linejoin="miter"/>
<path d="M509.20,220.03L512.50,214.53L515.80,220.03Z" fill="#E65A60" stroke="#E65A60" stroke-width="1.45" stroke-linejoin="miter"/>
<path d="M512.19,220.03L515.49,214.53L518.79,220.03Z" fill="#E65A60" stroke="#E65A60" stroke-width="1.45" stroke-linejoin="miter"/>
<path d="M515.18,220.03L518.48,214.53L521.78,220.03Z" fill="#E65A60" stroke="#E65A60" stroke-width="1.45" stroke-linejoin="miter"/>
<path d="M518.17,220.03L521.47,214.53L524.77,220.03Z" fill="#E65A60" stroke="#E65A60" stroke-width="1.45" stroke-linejoin="miter"/>
<path d="M521.16,220.03L524.46,214.53L527.76,220.03Z" fill="#E65A60" stroke="#E65A60" stroke-width="1.45" stroke-linejoin="miter"/>
<path d="M524.15,220.03L527.45,214.53L530.75,220.03Z" fill="#E65A60" stroke="#E65A60" stroke-width="1.45" stroke-linejoin="miter"/>
<path d="M527.14,220.03L530.44,214.53L533.74,220.03Z" fill="#E65A60" stroke="#E65A60" stroke-width="1.45" stroke-linejoin="miter"/>
<path d="M530.13,220.03L533.43,214.53L536.73,220.03Z" fill="#E65A60" stroke="#E65A60" stroke-width="1.45" stroke-linejoin="miter"/>
<path d="M533.12,220.03L536.42,214.53L539.72,220.03Z" fill="#E65A60" stroke="#E65A60" stroke-width="1.45" stroke-linejoin="miter"/>
<path d="M536.11,220.03L539.41,214.53L542.71,220.03Z" fill="#E65A60" stroke="#E65A60" stroke-width="1.45" stroke-linejoin="miter"/>
<path d="M539.09,220.03L542.39,214.53L545.69,220.03Z" fill="#E65A60" stroke="#E65A60" stroke-width="1.45" stroke-linejoin="miter"/>
<path d="M542.08,220.03L545.38,214.53L548.68,220.03Z" fill="#E65A60" stroke="#E65A60" stroke-width="1.45" stroke-linejoin="miter"/>
<path d="M545.07,220.03L548.37,214.53L551.67,220.03Z" fill="#E65A60" stroke="#E65A60" stroke-width="1.45" stroke-linejoin="miter"/>
<path d="M548.06,220.03L551.36,214.53L554.66,220.03Z" fill="#E65A60" stroke="#E65A60" stroke-width="1.45" stroke-linejoin="miter"/>
<path d="M551.05,220.03L554.35,214.53L557.65,220.03Z" fill="#E65A60" stroke="#E65A60" stroke-width="1.45" stroke-linejoin="miter"/>
<path d="M554.04,220.03L557.34,214.53L560.64,220.03Z" fill="#E65A60" stroke="#E65A60" stroke-width="1.45" stroke-linejoin="miter"/>
<path d="M557.03,220.03L560.33,214.53L563.63,220.03Z" fill="#E65A60" stroke="#E65A60" stroke-width="1.45" stroke-linejoin="miter"/>
<path d="M560.02,220.03L563.32,214.53L566.62,220.03Z" fill="#E65A60" stroke="#E65A60" stroke-width="1.45" stroke-linejoin="miter"/>
<path d="M563.01,220.03L566.31,214.53L569.61,220.03Z" fill="#E65A60" stroke="#E65A60" stroke-width="1.45" stroke-linejoin="miter"/>
<path d="M566.00,220.03L569.30,214.53L572.60,220.03Z" fill="#E65A60" stroke="#E65A60" stroke-width="1.45" stroke-linejoin="miter"/>
<path d="M568.98,220.03L572.28,214.53L575.58,220.03Z" fill="#E65A60" stroke="#E65A60" stroke-width="1.45" stroke-linejoin="miter"/>
<path d="M571.97,220.03L575.27,214.53L578.57,220.03Z" fill="#E65A60" stroke="#E65A60" stroke-width="1.45" stroke-linejoin="miter"/>
<path d="M574.96,220.03L578.26,214.53L581.56,220.03Z" fill="#E65A60" stroke="#E65A60" stroke-width="1.45" stroke-linejoin="miter"/>
<path d="M577.95,220.03L581.25,214.53L584.55,220.03Z" fill="#E65A60" stroke="#E65A60" stroke-width="1.45" stroke-linejoin="miter"/>
<path d="M580.94,220.03L584.24,214.53L587.54,220.03Z" fill="#E65A60" stroke="#E65A60" stroke-width="1.45" stroke-linejoin="miter"/>
<path d="M583.93,220.03L587.23,214.53L590.53,220.03Z" fill="#E65A60" stroke="#E65A60" stroke-width="1.45" stroke-linejoin="miter"/>
<path d="M586.92,220.03L590.22,214.53L593.52,220.03Z" fill="#E65A60" stroke="#E65A60" stroke-width="1.45" stroke-linejoin="miter"/>
<path d="M589.91,220.03L593.21,214.53L596.51,220.03Z" fill="#E65A60" stroke="#E65A60" stroke-width="1.45" stroke-linejoin="miter"/>
<path d="M592.90,220.03L596.20,214.53L599.50,220.03Z" fill="#E65A60" stroke="#E65A60" stroke-width="1.45" stroke-linejoin="miter"/>
<path d="M595.89,220.03L599.19,214.53L602.49,220.03Z" fill="#E65A60" stroke="#E65A60" stroke-width="1.45" stroke-linejoin="miter"/>
<path d="M598.88,220.03L602.18,214.53L605.48,220.03Z" fill="#E65A60" stroke="#E65A60" stroke-width="1.45" stroke-linejoin="miter"/>
<path d="M601.86,220.03L605.16,214.53L608.46,220.03Z" fill="#E65A60" stroke="#E65A60" stroke-width="1.45" stroke-linejoin="miter"/>
<path d="M604.85,220.03L608.15,214.53L611.45,220.03Z" fill="#E65A60" stroke="#E65A60" stroke-width="1.45" stroke-linejoin="miter"/>
<path d="M607.84,220.03L611.14,214.53L614.44,220.03Z" fill="#E65A60" stroke="#E65A60" stroke-width="1.45" stroke-linejoin="miter"/>
<path d="M610.83,220.03L614.13,214.53L617.43,220.03Z" fill="#E65A60" stroke="#E65A60" stroke-width="1.45" stroke-linejoin="miter"/>
<path d="M613.82,220.03L617.12,214.53L620.42,220.03Z" fill="#E65A60" stroke="#E65A60" stroke-width="1.45" stroke-linejoin="miter"/>
<path d="M616.81,220.03L620.11,214.53L623.41,220.03Z" fill="#E65A60" stroke="#E65A60" stroke-width="1.45" stroke-linejoin="miter"/>
<path d="M619.80,220.03L623.10,214.53L626.40,220.03Z" fill="#E65A60" stroke="#E65A60" stroke-width="1.45" stroke-linejoin="miter"/>
<path d="M622.79,220.03L626.09,214.53L629.39,220.03Z" fill="#E65A60" stroke="#E65A60" stroke-width="1.45" stroke-linejoin="miter"/>
<path d="M625.78,220.03L629.08,214.53L632.38,220.03Z" fill="#E65A60" stroke="#E65A60" stroke-width="1.45" stroke-linejoin="miter"/>
<path d="M628.77,220.03L632.07,214.53L635.37,220.03Z" fill="#E65A60" stroke="#E65A60" stroke-width="1.45" stroke-linejoin="miter"/>
<path d="M631.75,220.03L635.05,214.53L638.35,220.03Z" fill="#E65A60" stroke="#E65A60" stroke-width="1.45" stroke-linejoin="miter"/>
<path d="M634.74,220.03L638.04,214.53L641.34,220.03Z" fill="#E65A60" stroke="#E65A60" stroke-width="1.45" stroke-linejoin="miter"/>
<path d="M637.73,220.03L641.03,214.53L644.33,220.03Z" fill="#E65A60" stroke="#E65A60" stroke-width="1.45" stroke-linejoin="miter"/>
<path d="M640.72,220.03L644.02,214.53L647.32,220.03Z" fill="#E65A60" stroke="#E65A60" stroke-width="1.45" stroke-linejoin="miter"/>
<path d="M643.71,220.03L647.01,214.53L650.31,220.03Z" fill="#E65A60" stroke="#E65A60" stroke-width="1.45" stroke-linejoin="miter"/>
<path d="M646.70,220.03L650.00,214.53L653.30,220.03Z" fill="#E65A60" stroke="#E65A60" stroke-width="1.45" stroke-linejoin="miter"/>
<path d="M649.50,218.53L652.80,213.03L656.10,218.53Z" fill="#E65A60" stroke="#E65A60" stroke-width="1.45" stroke-linejoin="miter"/>
<path d="M650.60,212.83L653.90,207.33L657.20,212.83Z" fill="#E65A60" stroke="#E65A60" stroke-width="1.45" stroke-linejoin="miter"/>
<path d="M652.00,205.23L655.30,199.73L658.60,205.23Z" fill="#E65A60" stroke="#E65A60" stroke-width="1.45" stroke-linejoin="miter"/>
<path d="M653.40,197.03L656.70,191.53L660.00,197.03Z" fill="#E65A60" stroke="#E65A60" stroke-width="1.45" stroke-linejoin="miter"/>
<polyline points="431.80,218.20 435.76,218.20 439.73,218.20 443.69,218.20 447.66,218.20 451.62,218.20 455.58,218.20 459.55,218.20 463.51,218.20 467.48,218.20 471.44,218.20 475.40,218.20 479.37,218.20 483.33,218.20 487.30,218.20 491.26,218.20 495.22,218.20 499.19,218.20 503.15,218.20 507.12,218.20 511.08,218.20 515.04,218.20 519.01,218.20 522.97,218.20 526.94,218.20 530.90,218.20 534.86,218.20 538.83,218.20 542.79,218.20 546.76,218.20 550.72,218.20 554.68,218.20 558.65,218.20 562.61,218.20 566.58,218.20 570.54,218.20 574.50,218.20 578.47,218.20 582.43,218.20 586.40,218.20 590.36,218.20 594.32,218.20 598.29,218.20 602.25,218.20 606.22,218.20 610.18,218.20 614.14,218.20 618.11,218.20 622.07,218.20 626.04,218.20 630.00,218.20 633.10,212.60 636.30,209.10 640.00,203.50 643.20,197.80 644.90,193.80" fill="none" stroke="#E65A60" stroke-width="1.4" stroke-linejoin="round"/>
<rect x="429.30" y="215.70" width="5.0" height="5.0" fill="#E65A60" stroke="#E65A60" stroke-width="1.45"/>
<rect x="433.26" y="215.70" width="5.0" height="5.0" fill="#E65A60" stroke="#E65A60" stroke-width="1.45"/>
<rect x="437.23" y="215.70" width="5.0" height="5.0" fill="#E65A60" stroke="#E65A60" stroke-width="1.45"/>
<rect x="441.19" y="215.70" width="5.0" height="5.0" fill="#E65A60" stroke="#E65A60" stroke-width="1.45"/>
<rect x="445.16" y="215.70" width="5.0" height="5.0" fill="#E65A60" stroke="#E65A60" stroke-width="1.45"/>
<rect x="449.12" y="215.70" width="5.0" height="5.0" fill="#E65A60" stroke="#E65A60" stroke-width="1.45"/>
<rect x="453.08" y="215.70" width="5.0" height="5.0" fill="#E65A60" stroke="#E65A60" stroke-width="1.45"/>
<rect x="457.05" y="215.70" width="5.0" height="5.0" fill="#E65A60" stroke="#E65A60" stroke-width="1.45"/>
<rect x="461.01" y="215.70" width="5.0" height="5.0" fill="#E65A60" stroke="#E65A60" stroke-width="1.45"/>
<rect x="464.98" y="215.70" width="5.0" height="5.0" fill="#E65A60" stroke="#E65A60" stroke-width="1.45"/>
<rect x="468.94" y="215.70" width="5.0" height="5.0" fill="#E65A60" stroke="#E65A60" stroke-width="1.45"/>
<rect x="472.90" y="215.70" width="5.0" height="5.0" fill="#E65A60" stroke="#E65A60" stroke-width="1.45"/>
<rect x="476.87" y="215.70" width="5.0" height="5.0" fill="#E65A60" stroke="#E65A60" stroke-width="1.45"/>
<rect x="480.83" y="215.70" width="5.0" height="5.0" fill="#E65A60" stroke="#E65A60" stroke-width="1.45"/>
<rect x="484.80" y="215.70" width="5.0" height="5.0" fill="#E65A60" stroke="#E65A60" stroke-width="1.45"/>
<rect x="488.76" y="215.70" width="5.0" height="5.0" fill="#E65A60" stroke="#E65A60" stroke-width="1.45"/>
<rect x="492.72" y="215.70" width="5.0" height="5.0" fill="#E65A60" stroke="#E65A60" stroke-width="1.45"/>
<rect x="496.69" y="215.70" width="5.0" height="5.0" fill="#E65A60" stroke="#E65A60" stroke-width="1.45"/>
<rect x="500.65" y="215.70" width="5.0" height="5.0" fill="#E65A60" stroke="#E65A60" stroke-width="1.45"/>
<rect x="504.62" y="215.70" width="5.0" height="5.0" fill="#E65A60" stroke="#E65A60" stroke-width="1.45"/>
<rect x="508.58" y="215.70" width="5.0" height="5.0" fill="#E65A60" stroke="#E65A60" stroke-width="1.45"/>
<rect x="512.54" y="215.70" width="5.0" height="5.0" fill="#E65A60" stroke="#E65A60" stroke-width="1.45"/>
<rect x="516.51" y="215.70" width="5.0" height="5.0" fill="#E65A60" stroke="#E65A60" stroke-width="1.45"/>
<rect x="520.47" y="215.70" width="5.0" height="5.0" fill="#E65A60" stroke="#E65A60" stroke-width="1.45"/>
<rect x="524.44" y="215.70" width="5.0" height="5.0" fill="#E65A60" stroke="#E65A60" stroke-width="1.45"/>
<rect x="528.40" y="215.70" width="5.0" height="5.0" fill="#E65A60" stroke="#E65A60" stroke-width="1.45"/>
<rect x="532.36" y="215.70" width="5.0" height="5.0" fill="#E65A60" stroke="#E65A60" stroke-width="1.45"/>
<rect x="536.33" y="215.70" width="5.0" height="5.0" fill="#E65A60" stroke="#E65A60" stroke-width="1.45"/>
<rect x="540.29" y="215.70" width="5.0" height="5.0" fill="#E65A60" stroke="#E65A60" stroke-width="1.45"/>
<rect x="544.26" y="215.70" width="5.0" height="5.0" fill="#E65A60" stroke="#E65A60" stroke-width="1.45"/>
<rect x="548.22" y="215.70" width="5.0" height="5.0" fill="#E65A60" stroke="#E65A60" stroke-width="1.45"/>
<rect x="552.18" y="215.70" width="5.0" height="5.0" fill="#E65A60" stroke="#E65A60" stroke-width="1.45"/>
<rect x="556.15" y="215.70" width="5.0" height="5.0" fill="#E65A60" stroke="#E65A60" stroke-width="1.45"/>
<rect x="560.11" y="215.70" width="5.0" height="5.0" fill="#E65A60" stroke="#E65A60" stroke-width="1.45"/>
<rect x="564.08" y="215.70" width="5.0" height="5.0" fill="#E65A60" stroke="#E65A60" stroke-width="1.45"/>
<rect x="568.04" y="215.70" width="5.0" height="5.0" fill="#E65A60" stroke="#E65A60" stroke-width="1.45"/>
<rect x="572.00" y="215.70" width="5.0" height="5.0" fill="#E65A60" stroke="#E65A60" stroke-width="1.45"/>
<rect x="575.97" y="215.70" width="5.0" height="5.0" fill="#E65A60" stroke="#E65A60" stroke-width="1.45"/>
<rect x="579.93" y="215.70" width="5.0" height="5.0" fill="#E65A60" stroke="#E65A60" stroke-width="1.45"/>
<rect x="583.90" y="215.70" width="5.0" height="5.0" fill="#E65A60" stroke="#E65A60" stroke-width="1.45"/>
<rect x="587.86" y="215.70" width="5.0" height="5.0" fill="#E65A60" stroke="#E65A60" stroke-width="1.45"/>
<rect x="591.82" y="215.70" width="5.0" height="5.0" fill="#E65A60" stroke="#E65A60" stroke-width="1.45"/>
<rect x="595.79" y="215.70" width="5.0" height="5.0" fill="#E65A60" stroke="#E65A60" stroke-width="1.45"/>
<rect x="599.75" y="215.70" width="5.0" height="5.0" fill="#E65A60" stroke="#E65A60" stroke-width="1.45"/>
<rect x="603.72" y="215.70" width="5.0" height="5.0" fill="#E65A60" stroke="#E65A60" stroke-width="1.45"/>
<rect x="607.68" y="215.70" width="5.0" height="5.0" fill="#E65A60" stroke="#E65A60" stroke-width="1.45"/>
<rect x="611.64" y="215.70" width="5.0" height="5.0" fill="#E65A60" stroke="#E65A60" stroke-width="1.45"/>
<rect x="615.61" y="215.70" width="5.0" height="5.0" fill="#E65A60" stroke="#E65A60" stroke-width="1.45"/>
<rect x="619.57" y="215.70" width="5.0" height="5.0" fill="#E65A60" stroke="#E65A60" stroke-width="1.45"/>
<rect x="623.54" y="215.70" width="5.0" height="5.0" fill="#E65A60" stroke="#E65A60" stroke-width="1.45"/>
<rect x="627.50" y="215.70" width="5.0" height="5.0" fill="#E65A60" stroke="#E65A60" stroke-width="1.45"/>
<rect x="630.60" y="210.10" width="5.0" height="5.0" fill="#E65A60" stroke="#E65A60" stroke-width="1.45"/>
<rect x="633.80" y="206.60" width="5.0" height="5.0" fill="#E65A60" stroke="#E65A60" stroke-width="1.45"/>
<rect x="637.50" y="201.00" width="5.0" height="5.0" fill="#E65A60" stroke="#E65A60" stroke-width="1.45"/>
<rect x="640.70" y="195.30" width="5.0" height="5.0" fill="#E65A60" stroke="#E65A60" stroke-width="1.45"/>
<rect x="642.40" y="191.30" width="5.0" height="5.0" fill="#E65A60" stroke="#E65A60" stroke-width="1.45"/>
<polyline points="432.10,218.70 439.70,219.10 447.30,216.20 454.90,216.20 462.50,215.60 470.00,215.60 477.60,215.60 485.20,215.20 492.80,215.00 500.20,214.80 507.60,214.60 515.20,214.40 522.80,214.00 530.40,213.20 538.00,212.60 545.50,212.00 553.10,211.10 560.70,209.70 568.00,208.30 575.30,206.90 583.20,204.60 590.80,202.20 598.40,200.00 605.80,197.20 613.30,194.90 620.90,192.10 628.50,189.30 636.20,186.50 643.50,184.20 651.10,175.90 656.70,166.20" fill="none" stroke="#E65A60" stroke-width="1.4" stroke-linejoin="round"/>
<path d="M428.80,220.53L432.10,215.03L435.40,220.53Z" fill="#fff" stroke="#E65A60" stroke-width="1.45" stroke-linejoin="miter"/>
<path d="M436.40,220.93L439.70,215.43L443.00,220.93Z" fill="#fff" stroke="#E65A60" stroke-width="1.45" stroke-linejoin="miter"/>
<path d="M444.00,218.03L447.30,212.53L450.60,218.03Z" fill="#fff" stroke="#E65A60" stroke-width="1.45" stroke-linejoin="miter"/>
<path d="M451.60,218.03L454.90,212.53L458.20,218.03Z" fill="#fff" stroke="#E65A60" stroke-width="1.45" stroke-linejoin="miter"/>
<path d="M459.20,217.43L462.50,211.93L465.80,217.43Z" fill="#fff" stroke="#E65A60" stroke-width="1.45" stroke-linejoin="miter"/>
<path d="M466.70,217.43L470.00,211.93L473.30,217.43Z" fill="#fff" stroke="#E65A60" stroke-width="1.45" stroke-linejoin="miter"/>
<path d="M474.30,217.43L477.60,211.93L480.90,217.43Z" fill="#fff" stroke="#E65A60" stroke-width="1.45" stroke-linejoin="miter"/>
<path d="M481.90,217.03L485.20,211.53L488.50,217.03Z" fill="#fff" stroke="#E65A60" stroke-width="1.45" stroke-linejoin="miter"/>
<path d="M489.50,216.83L492.80,211.33L496.10,216.83Z" fill="#fff" stroke="#E65A60" stroke-width="1.45" stroke-linejoin="miter"/>
<path d="M496.90,216.63L500.20,211.13L503.50,216.63Z" fill="#fff" stroke="#E65A60" stroke-width="1.45" stroke-linejoin="miter"/>
<path d="M504.30,216.43L507.60,210.93L510.90,216.43Z" fill="#fff" stroke="#E65A60" stroke-width="1.45" stroke-linejoin="miter"/>
<path d="M511.90,216.23L515.20,210.73L518.50,216.23Z" fill="#fff" stroke="#E65A60" stroke-width="1.45" stroke-linejoin="miter"/>
<path d="M519.50,215.83L522.80,210.33L526.10,215.83Z" fill="#fff" stroke="#E65A60" stroke-width="1.45" stroke-linejoin="miter"/>
<path d="M527.10,215.03L530.40,209.53L533.70,215.03Z" fill="#fff" stroke="#E65A60" stroke-width="1.45" stroke-linejoin="miter"/>
<path d="M534.70,214.43L538.00,208.93L541.30,214.43Z" fill="#fff" stroke="#E65A60" stroke-width="1.45" stroke-linejoin="miter"/>
<path d="M542.20,213.83L545.50,208.33L548.80,213.83Z" fill="#fff" stroke="#E65A60" stroke-width="1.45" stroke-linejoin="miter"/>
<path d="M549.80,212.93L553.10,207.43L556.40,212.93Z" fill="#fff" stroke="#E65A60" stroke-width="1.45" stroke-linejoin="miter"/>
<path d="M557.40,211.53L560.70,206.03L564.00,211.53Z" fill="#fff" stroke="#E65A60" stroke-width="1.45" stroke-linejoin="miter"/>
<path d="M564.70,210.13L568.00,204.63L571.30,210.13Z" fill="#fff" stroke="#E65A60" stroke-width="1.45" stroke-linejoin="miter"/>
<path d="M572.00,208.73L575.30,203.23L578.60,208.73Z" fill="#fff" stroke="#E65A60" stroke-width="1.45" stroke-linejoin="miter"/>
<path d="M579.90,206.43L583.20,200.93L586.50,206.43Z" fill="#fff" stroke="#E65A60" stroke-width="1.45" stroke-linejoin="miter"/>
<path d="M587.50,204.03L590.80,198.53L594.10,204.03Z" fill="#fff" stroke="#E65A60" stroke-width="1.45" stroke-linejoin="miter"/>
<path d="M595.10,201.83L598.40,196.33L601.70,201.83Z" fill="#fff" stroke="#E65A60" stroke-width="1.45" stroke-linejoin="miter"/>
<path d="M602.50,199.03L605.80,193.53L609.10,199.03Z" fill="#fff" stroke="#E65A60" stroke-width="1.45" stroke-linejoin="miter"/>
<path d="M610.00,196.73L613.30,191.23L616.60,196.73Z" fill="#fff" stroke="#E65A60" stroke-width="1.45" stroke-linejoin="miter"/>
<path d="M617.60,193.93L620.90,188.43L624.20,193.93Z" fill="#fff" stroke="#E65A60" stroke-width="1.45" stroke-linejoin="miter"/>
<path d="M625.20,191.13L628.50,185.63L631.80,191.13Z" fill="#fff" stroke="#E65A60" stroke-width="1.45" stroke-linejoin="miter"/>
<path d="M632.90,188.33L636.20,182.83L639.50,188.33Z" fill="#fff" stroke="#E65A60" stroke-width="1.45" stroke-linejoin="miter"/>
<path d="M640.20,186.03L643.50,180.53L646.80,186.03Z" fill="#fff" stroke="#E65A60" stroke-width="1.45" stroke-linejoin="miter"/>
<path d="M647.80,177.73L651.10,172.23L654.40,177.73Z" fill="#fff" stroke="#E65A60" stroke-width="1.45" stroke-linejoin="miter"/>
<path d="M653.40,168.03L656.70,162.53L660.00,168.03Z" fill="#fff" stroke="#E65A60" stroke-width="1.45" stroke-linejoin="miter"/>
<polyline points="439.10,218.20 439.10,196.30 445.70,195.80 452.30,195.10 458.90,194.60 465.60,193.90 472.20,193.50 478.80,192.80 485.40,191.90 492.10,190.40 498.70,188.80 505.30,187.60 511.90,185.60 518.50,183.80 525.20,182.30 531.80,180.10 538.40,177.60 545.00,175.30 551.60,171.80 558.30,169.00 564.90,164.80 571.50,161.00 578.10,155.80 584.70,151.00 591.40,144.50 598.00,139.40 604.60,133.00 611.20,127.00 617.80,120.80 624.50,113.50 633.30,104.40 640.00,96.90 644.80,94.80" fill="none" stroke="#E65A60" stroke-width="1.4" stroke-linejoin="round"/>
<rect x="436.60" y="193.80" width="5.0" height="5.0" fill="#fff" stroke="#E65A60" stroke-width="1.45"/>
<rect x="443.20" y="193.30" width="5.0" height="5.0" fill="#fff" stroke="#E65A60" stroke-width="1.45"/>
<rect x="449.80" y="192.60" width="5.0" height="5.0" fill="#fff" stroke="#E65A60" stroke-width="1.45"/>
<rect x="456.40" y="192.10" width="5.0" height="5.0" fill="#fff" stroke="#E65A60" stroke-width="1.45"/>
<rect x="463.10" y="191.40" width="5.0" height="5.0" fill="#fff" stroke="#E65A60" stroke-width="1.45"/>
<rect x="469.70" y="191.00" width="5.0" height="5.0" fill="#fff" stroke="#E65A60" stroke-width="1.45"/>
<rect x="476.30" y="190.30" width="5.0" height="5.0" fill="#fff" stroke="#E65A60" stroke-width="1.45"/>
<rect x="482.90" y="189.40" width="5.0" height="5.0" fill="#fff" stroke="#E65A60" stroke-width="1.45"/>
<rect x="489.60" y="187.90" width="5.0" height="5.0" fill="#fff" stroke="#E65A60" stroke-width="1.45"/>
<rect x="496.20" y="186.30" width="5.0" height="5.0" fill="#fff" stroke="#E65A60" stroke-width="1.45"/>
<rect x="502.80" y="185.10" width="5.0" height="5.0" fill="#fff" stroke="#E65A60" stroke-width="1.45"/>
<rect x="509.40" y="183.10" width="5.0" height="5.0" fill="#fff" stroke="#E65A60" stroke-width="1.45"/>
<rect x="516.00" y="181.30" width="5.0" height="5.0" fill="#fff" stroke="#E65A60" stroke-width="1.45"/>
<rect x="522.70" y="179.80" width="5.0" height="5.0" fill="#fff" stroke="#E65A60" stroke-width="1.45"/>
<rect x="529.30" y="177.60" width="5.0" height="5.0" fill="#fff" stroke="#E65A60" stroke-width="1.45"/>
<rect x="535.90" y="175.10" width="5.0" height="5.0" fill="#fff" stroke="#E65A60" stroke-width="1.45"/>
<rect x="542.50" y="172.80" width="5.0" height="5.0" fill="#fff" stroke="#E65A60" stroke-width="1.45"/>
<rect x="549.10" y="169.30" width="5.0" height="5.0" fill="#fff" stroke="#E65A60" stroke-width="1.45"/>
<rect x="555.80" y="166.50" width="5.0" height="5.0" fill="#fff" stroke="#E65A60" stroke-width="1.45"/>
<rect x="562.40" y="162.30" width="5.0" height="5.0" fill="#fff" stroke="#E65A60" stroke-width="1.45"/>
<rect x="569.00" y="158.50" width="5.0" height="5.0" fill="#fff" stroke="#E65A60" stroke-width="1.45"/>
<rect x="575.60" y="153.30" width="5.0" height="5.0" fill="#fff" stroke="#E65A60" stroke-width="1.45"/>
<rect x="582.20" y="148.50" width="5.0" height="5.0" fill="#fff" stroke="#E65A60" stroke-width="1.45"/>
<rect x="588.90" y="142.00" width="5.0" height="5.0" fill="#fff" stroke="#E65A60" stroke-width="1.45"/>
<rect x="595.50" y="136.90" width="5.0" height="5.0" fill="#fff" stroke="#E65A60" stroke-width="1.45"/>
<rect x="602.10" y="130.50" width="5.0" height="5.0" fill="#fff" stroke="#E65A60" stroke-width="1.45"/>
<rect x="608.70" y="124.50" width="5.0" height="5.0" fill="#fff" stroke="#E65A60" stroke-width="1.45"/>
<rect x="615.30" y="118.30" width="5.0" height="5.0" fill="#fff" stroke="#E65A60" stroke-width="1.45"/>
<rect x="622.00" y="111.00" width="5.0" height="5.0" fill="#fff" stroke="#E65A60" stroke-width="1.45"/>
<rect x="630.80" y="101.90" width="5.0" height="5.0" fill="#fff" stroke="#E65A60" stroke-width="1.45"/>
<rect x="637.50" y="94.40" width="5.0" height="5.0" fill="#fff" stroke="#E65A60" stroke-width="1.45"/>
<rect x="642.30" y="92.30" width="5.0" height="5.0" fill="#fff" stroke="#E65A60" stroke-width="1.45"/>
<path d="M425.60,160.30V218.40M423.20,160.30H428.00M423.20,218.40H428.00" stroke="#000" stroke-width="1.6" fill="none"/>
<path d="M480.70,160.70V218.20M478.30,160.70H483.10M478.30,218.20H483.10" stroke="#000" stroke-width="1.6" fill="none"/>
<path d="M593.20,144.50V202.30M590.80,144.50H595.60M590.80,202.30H595.60" stroke="#000" stroke-width="1.6" fill="none"/>
<path d="M623.10,129.40V187.20M620.70,129.40H625.50M620.70,187.20H625.50" stroke="#000" stroke-width="1.6" fill="none"/>
<text x="433.50" y="156.20" font-size="12.4" text-anchor="start" fill="#000" textLength="81.70" lengthAdjust="spacingAndGlyphs"  stroke="#000">ΔNO &lt; 50 ppm</text>
<text x="514.90" y="140.10" font-size="12.4" text-anchor="start" fill="#000" textLength="81.00" lengthAdjust="spacingAndGlyphs"  stroke="#000">ΔNO = 50 ppm</text>
<text x="595.70" y="125.10" font-size="12.4" text-anchor="start" fill="#000" textLength="81.10" lengthAdjust="spacingAndGlyphs"  stroke="#000">ΔNO &gt; 50 ppm</text>
<text transform="translate(421.6,209.1) rotate(-90)" font-size="12.2" textLength="41.5" lengthAdjust="spacingAndGlyphs" stroke="#000">50 ppm</text>
<path d="M412.30,22.10H446.70M451.90,22.10H486.30" stroke="#E65A60" stroke-width="1.7"/>
<g transform="translate(429.70,22.10) scale(1.0)"><path d="M-3.30,1.83L0.00,-3.67L3.30,1.83Z" fill="#E65A60" stroke="#E65A60" stroke-width="1.45" stroke-linejoin="miter"/></g>
<g transform="translate(469.10,22.10) scale(1.0)"><path d="M-3.30,1.83L0.00,-3.67L3.30,1.83Z" fill="#fff" stroke="#E65A60" stroke-width="1.45" stroke-linejoin="miter"/></g>
<path d="M412.30,41.40H446.70M451.90,41.40H486.30" stroke="#E65A60" stroke-width="1.7"/>
<g transform="translate(429.70,41.40) scale(1.0)"><rect x="-2.50" y="-2.50" width="5.0" height="5.0" fill="#E65A60" stroke="#E65A60" stroke-width="1.45"/></g>
<g transform="translate(469.10,41.40) scale(1.0)"><rect x="-2.50" y="-2.50" width="5.0" height="5.0" fill="#fff" stroke="#E65A60" stroke-width="1.45"/></g>
<text x="492.20" y="26.90" font-size="12" textLength="68.3" lengthAdjust="spacingAndGlyphs" stroke="#000">NO<tspan font-size="8.5" dy="3">2</tspan><tspan dy="-3">/N</tspan><tspan font-size="8.5" dy="3">2</tspan><tspan dy="-3"> ads.</tspan></text>
<text x="492.20" y="45.60" font-size="12" textLength="91.5" lengthAdjust="spacingAndGlyphs" stroke="#000">NO<tspan font-size="8.5" dy="3">2</tspan><tspan dy="-3">/NO/N</tspan><tspan font-size="8.5" dy="3">2</tspan><tspan dy="-3"> ads.</tspan></text>
<text x="413.00" y="65.80" font-size="12" textLength="216.8" lengthAdjust="spacingAndGlyphs" stroke="#000">Solid symbol: NO<tspan font-size="8.5" dy="3">2</tspan><tspan dy="-3"> breakthrough curve</tspan></text>
<text x="413.00" y="84.20" font-size="12" textLength="261.8" lengthAdjust="spacingAndGlyphs" stroke="#000">Open symbol: NO release/breakthrough curve</text>
<text x="677.30" y="27.00" font-size="12.2" text-anchor="end" fill="#E31E1E" textLength="48.80" lengthAdjust="spacingAndGlyphs" stroke="#E31E1E">Ca-LTA-3</text>
<text x="499.80" y="270.80" font-size="13.9" textLength="90.60" lengthAdjust="spacingAndGlyphs" stroke="#000">Time (min g<tspan font-size="10.3" dy="-6.3">-1</tspan><tspan dy="6.3">)</tspan></text>
<text transform="translate(369.60,220.20) rotate(-90)" x="0" y="0" font-size="15" textLength="182.2" lengthAdjust="spacingAndGlyphs" stroke="#000">Concentration of NO<tspan font-size="10" dy="3.8">x</tspan><tspan dy="-3.8"> (ppm)</tspan></text>
<text x="356.60" y="25.10" font-size="33.2" textLength="18.60" lengthAdjust="spacingAndGlyphs" stroke="#000">b</text>
<rect x="51.10" y="291.10" width="275.10" height="221.80" fill="none" stroke="#000" stroke-width="2.15"/>
<path d="M46.30,499.30H51.1" stroke="#000" stroke-width="1.8"/>
<text x="43.40" y="499.54" font-size="12.5" text-anchor="end" fill="#000"  stroke="#000">0</text>
<path d="M46.30,451.95H51.1" stroke="#000" stroke-width="1.8"/>
<text x="43.40" y="452.19" font-size="12.5" text-anchor="end" fill="#000"  stroke="#000">25</text>
<path d="M46.30,404.60H51.1" stroke="#000" stroke-width="1.8"/>
<text x="43.40" y="404.84" font-size="12.5" text-anchor="end" fill="#000"  stroke="#000">50</text>
<path d="M46.30,357.25H51.1" stroke="#000" stroke-width="1.8"/>
<text x="43.40" y="357.49" font-size="12.5" text-anchor="end" fill="#000"  stroke="#000">75</text>
<path d="M46.30,309.90H51.1" stroke="#000" stroke-width="1.8"/>
<text x="43.40" y="310.14" font-size="12.5" text-anchor="end" fill="#000"  stroke="#000">100</text>
<path d="M48.80,475.62H51.1" stroke="#000" stroke-width="1.8"/>
<path d="M48.80,428.28H51.1" stroke="#000" stroke-width="1.8"/>
<path d="M48.80,380.93H51.1" stroke="#000" stroke-width="1.8"/>
<path d="M48.80,333.58H51.1" stroke="#000" stroke-width="1.8"/>
<path d="M75.20,512.9V517.70" stroke="#000" stroke-width="1.8"/>
<text x="75.20" y="530.20" font-size="12.5" text-anchor="middle" fill="#000"  stroke="#000">0</text>
<path d="M146.80,512.9V517.70" stroke="#000" stroke-width="1.8"/>
<text x="146.80" y="530.20" font-size="12.5" text-anchor="middle" fill="#000"  stroke="#000">200</text>
<path d="M218.40,512.9V517.70" stroke="#000" stroke-width="1.8"/>
<text x="218.40" y="530.20" font-size="12.5" text-anchor="middle" fill="#000"  stroke="#000">400</text>
<path d="M290.00,512.9V517.70" stroke="#000" stroke-width="1.8"/>
<text x="290.00" y="530.20" font-size="12.5" text-anchor="middle" fill="#000"  stroke="#000">600</text>
<path d="M111.00,512.9V515.20" stroke="#000" stroke-width="1.8"/>
<path d="M182.60,512.9V515.20" stroke="#000" stroke-width="1.8"/>
<path d="M254.20,512.9V515.20" stroke="#000" stroke-width="1.8"/>
<path d="M325.80,512.9V515.20" stroke="#000" stroke-width="1.8"/>
<polyline points="75.20,499.30 78.22,499.30 81.23,499.30 84.25,499.30 87.27,499.30 90.29,499.30 93.30,499.30 96.32,499.30 99.34,499.30 102.36,499.30 105.37,499.30 108.39,499.30 111.41,499.30 114.43,499.30 117.44,499.30 120.46,499.30 123.48,499.30 126.49,499.30 129.51,499.30 132.53,499.30 135.55,499.30 138.56,499.30 141.58,499.30 144.60,499.30 147.62,499.30 150.63,499.30 153.65,499.30 156.67,499.30 159.69,499.30 162.70,499.30 165.72,499.30 168.74,499.30 171.75,499.30 174.77,499.30 177.79,499.30 180.81,499.30 183.82,499.30 186.84,499.30 189.86,499.30 192.88,499.30 195.89,499.30 198.91,499.30 201.93,499.30 204.95,499.30 207.96,499.30 210.98,499.30 214.00,499.30 217.01,499.30 220.03,499.30 223.05,499.30 226.07,499.30 229.08,499.30 232.10,499.30 235.12,499.30 238.14,499.30 241.15,499.30 244.17,499.30 247.19,499.30 250.21,499.30 253.22,499.30 256.24,499.30 259.26,499.30 262.27,499.30 265.29,499.30 268.31,499.30 271.33,499.30 274.34,499.30 277.36,499.30 280.38,499.30 283.40,499.30 286.41,499.30 289.43,499.30 292.45,499.30 295.47,499.30 298.48,499.30 301.50,499.30 303.20,497.40 304.60,487.20 306.70,477.60 309.30,467.80 310.40,462.00" fill="none" stroke="#E68C25" stroke-width="1.4" stroke-linejoin="round"/>
<path d="M71.90,501.13L75.20,495.63L78.50,501.13Z" fill="#E68C25" stroke="#E68C25" stroke-width="1.45" stroke-linejoin="miter"/>
<path d="M74.92,501.13L78.22,495.63L81.52,501.13Z" fill="#E68C25" stroke="#E68C25" stroke-width="1.45" stroke-linejoin="miter"/>
<path d="M77.93,501.13L81.23,495.63L84.53,501.13Z" fill="#E68C25" stroke="#E68C25" stroke-width="1.45" stroke-linejoin="miter"/>
<path d="M80.95,501.13L84.25,495.63L87.55,501.13Z" fill="#E68C25" stroke="#E68C25" stroke-width="1.45" stroke-linejoin="miter"/>
<path d="M83.97,501.13L87.27,495.63L90.57,501.13Z" fill="#E68C25" stroke="#E68C25" stroke-width="1.45" stroke-linejoin="miter"/>
<path d="M86.99,501.13L90.29,495.63L93.59,501.13Z" fill="#E68C25" stroke="#E68C25" stroke-width="1.45" stroke-linejoin="miter"/>
<path d="M90.00,501.13L93.30,495.63L96.60,501.13Z" fill="#E68C25" stroke="#E68C25" stroke-width="1.45" stroke-linejoin="miter"/>
<path d="M93.02,501.13L96.32,495.63L99.62,501.13Z" fill="#E68C25" stroke="#E68C25" stroke-width="1.45" stroke-linejoin="miter"/>
<path d="M96.04,501.13L99.34,495.63L102.64,501.13Z" fill="#E68C25" stroke="#E68C25" stroke-width="1.45" stroke-linejoin="miter"/>
<path d="M99.06,501.13L102.36,495.63L105.66,501.13Z" fill="#E68C25" stroke="#E68C25" stroke-width="1.45" stroke-linejoin="miter"/>
<path d="M102.07,501.13L105.37,495.63L108.67,501.13Z" fill="#E68C25" stroke="#E68C25" stroke-width="1.45" stroke-linejoin="miter"/>
<path d="M105.09,501.13L108.39,495.63L111.69,501.13Z" fill="#E68C25" stroke="#E68C25" stroke-width="1.45" stroke-linejoin="miter"/>
<path d="M108.11,501.13L111.41,495.63L114.71,501.13Z" fill="#E68C25" stroke="#E68C25" stroke-width="1.45" stroke-linejoin="miter"/>
<path d="M111.13,501.13L114.43,495.63L117.73,501.13Z" fill="#E68C25" stroke="#E68C25" stroke-width="1.45" stroke-linejoin="miter"/>
<path d="M114.14,501.13L117.44,495.63L120.74,501.13Z" fill="#E68C25" stroke="#E68C25" stroke-width="1.45" stroke-linejoin="miter"/>
<path d="M117.16,501.13L120.46,495.63L123.76,501.13Z" fill="#E68C25" stroke="#E68C25" stroke-width="1.45" stroke-linejoin="miter"/>
<path d="M120.18,501.13L123.48,495.63L126.78,501.13Z" fill="#E68C25" stroke="#E68C25" stroke-width="1.45" stroke-linejoin="miter"/>
<path d="M123.19,501.13L126.49,495.63L129.79,501.13Z" fill="#E68C25" stroke="#E68C25" stroke-width="1.45" stroke-linejoin="miter"/>
<path d="M126.21,501.13L129.51,495.63L132.81,501.13Z" fill="#E68C25" stroke="#E68C25" stroke-width="1.45" stroke-linejoin="miter"/>
<path d="M129.23,501.13L132.53,495.63L135.83,501.13Z" fill="#E68C25" stroke="#E68C25" stroke-width="1.45" stroke-linejoin="miter"/>
<path d="M132.25,501.13L135.55,495.63L138.85,501.13Z" fill="#E68C25" stroke="#E68C25" stroke-width="1.45" stroke-linejoin="miter"/>
<path d="M135.26,501.13L138.56,495.63L141.86,501.13Z" fill="#E68C25" stroke="#E68C25" stroke-width="1.45" stroke-linejoin="miter"/>
<path d="M138.28,501.13L141.58,495.63L144.88,501.13Z" fill="#E68C25" stroke="#E68C25" stroke-width="1.45" stroke-linejoin="miter"/>
<path d="M141.30,501.13L144.60,495.63L147.90,501.13Z" fill="#E68C25" stroke="#E68C25" stroke-width="1.45" stroke-linejoin="miter"/>
<path d="M144.32,501.13L147.62,495.63L150.92,501.13Z" fill="#E68C25" stroke="#E68C25" stroke-width="1.45" stroke-linejoin="miter"/>
<path d="M147.33,501.13L150.63,495.63L153.93,501.13Z" fill="#E68C25" stroke="#E68C25" stroke-width="1.45" stroke-linejoin="miter"/>
<path d="M150.35,501.13L153.65,495.63L156.95,501.13Z" fill="#E68C25" stroke="#E68C25" stroke-width="1.45" stroke-linejoin="miter"/>
<path d="M153.37,501.13L156.67,495.63L159.97,501.13Z" fill="#E68C25" stroke="#E68C25" stroke-width="1.45" stroke-linejoin="miter"/>
<path d="M156.39,501.13L159.69,495.63L162.99,501.13Z" fill="#E68C25" stroke="#E68C25" stroke-width="1.45" stroke-linejoin="miter"/>
<path d="M159.40,501.13L162.70,495.63L166.00,501.13Z" fill="#E68C25" stroke="#E68C25" stroke-width="1.45" stroke-linejoin="miter"/>
<path d="M162.42,501.13L165.72,495.63L169.02,501.13Z" fill="#E68C25" stroke="#E68C25" stroke-width="1.45" stroke-linejoin="miter"/>
<path d="M165.44,501.13L168.74,495.63L172.04,501.13Z" fill="#E68C25" stroke="#E68C25" stroke-width="1.45" stroke-linejoin="miter"/>
<path d="M168.45,501.13L171.75,495.63L175.05,501.13Z" fill="#E68C25" stroke="#E68C25" stroke-width="1.45" stroke-linejoin="miter"/>
<path d="M171.47,501.13L174.77,495.63L178.07,501.13Z" fill="#E68C25" stroke="#E68C25" stroke-width="1.45" stroke-linejoin="miter"/>
<path d="M174.49,501.13L177.79,495.63L181.09,501.13Z" fill="#E68C25" stroke="#E68C25" stroke-width="1.45" stroke-linejoin="miter"/>
<path d="M177.51,501.13L180.81,495.63L184.11,501.13Z" fill="#E68C25" stroke="#E68C25" stroke-width="1.45" stroke-linejoin="miter"/>
<path d="M180.52,501.13L183.82,495.63L187.12,501.13Z" fill="#E68C25" stroke="#E68C25" stroke-width="1.45" stroke-linejoin="miter"/>
<path d="M183.54,501.13L186.84,495.63L190.14,501.13Z" fill="#E68C25" stroke="#E68C25" stroke-width="1.45" stroke-linejoin="miter"/>
<path d="M186.56,501.13L189.86,495.63L193.16,501.13Z" fill="#E68C25" stroke="#E68C25" stroke-width="1.45" stroke-linejoin="miter"/>
<path d="M189.58,501.13L192.88,495.63L196.18,501.13Z" fill="#E68C25" stroke="#E68C25" stroke-width="1.45" stroke-linejoin="miter"/>
<path d="M192.59,501.13L195.89,495.63L199.19,501.13Z" fill="#E68C25" stroke="#E68C25" stroke-width="1.45" stroke-linejoin="miter"/>
<path d="M195.61,501.13L198.91,495.63L202.21,501.13Z" fill="#E68C25" stroke="#E68C25" stroke-width="1.45" stroke-linejoin="miter"/>
<path d="M198.63,501.13L201.93,495.63L205.23,501.13Z" fill="#E68C25" stroke="#E68C25" stroke-width="1.45" stroke-linejoin="miter"/>
<path d="M201.65,501.13L204.95,495.63L208.25,501.13Z" fill="#E68C25" stroke="#E68C25" stroke-width="1.45" stroke-linejoin="miter"/>
<path d="M204.66,501.13L207.96,495.63L211.26,501.13Z" fill="#E68C25" stroke="#E68C25" stroke-width="1.45" stroke-linejoin="miter"/>
<path d="M207.68,501.13L210.98,495.63L214.28,501.13Z" fill="#E68C25" stroke="#E68C25" stroke-width="1.45" stroke-linejoin="miter"/>
<path d="M210.70,501.13L214.00,495.63L217.30,501.13Z" fill="#E68C25" stroke="#E68C25" stroke-width="1.45" stroke-linejoin="miter"/>
<path d="M213.71,501.13L217.01,495.63L220.31,501.13Z" fill="#E68C25" stroke="#E68C25" stroke-width="1.45" stroke-linejoin="miter"/>
<path d="M216.73,501.13L220.03,495.63L223.33,501.13Z" fill="#E68C25" stroke="#E68C25" stroke-width="1.45" stroke-linejoin="miter"/>
<path d="M219.75,501.13L223.05,495.63L226.35,501.13Z" fill="#E68C25" stroke="#E68C25" stroke-width="1.45" stroke-linejoin="miter"/>
<path d="M222.77,501.13L226.07,495.63L229.37,501.13Z" fill="#E68C25" stroke="#E68C25" stroke-width="1.45" stroke-linejoin="miter"/>
<path d="M225.78,501.13L229.08,495.63L232.38,501.13Z" fill="#E68C25" stroke="#E68C25" stroke-width="1.45" stroke-linejoin="miter"/>
<path d="M228.80,501.13L232.10,495.63L235.40,501.13Z" fill="#E68C25" stroke="#E68C25" stroke-width="1.45" stroke-linejoin="miter"/>
<path d="M231.82,501.13L235.12,495.63L238.42,501.13Z" fill="#E68C25" stroke="#E68C25" stroke-width="1.45" stroke-linejoin="miter"/>
<path d="M234.84,501.13L238.14,495.63L241.44,501.13Z" fill="#E68C25" stroke="#E68C25" stroke-width="1.45" stroke-linejoin="miter"/>
<path d="M237.85,501.13L241.15,495.63L244.45,501.13Z" fill="#E68C25" stroke="#E68C25" stroke-width="1.45" stroke-linejoin="miter"/>
<path d="M240.87,501.13L244.17,495.63L247.47,501.13Z" fill="#E68C25" stroke="#E68C25" stroke-width="1.45" stroke-linejoin="miter"/>
<path d="M243.89,501.13L247.19,495.63L250.49,501.13Z" fill="#E68C25" stroke="#E68C25" stroke-width="1.45" stroke-linejoin="miter"/>
<path d="M246.91,501.13L250.21,495.63L253.51,501.13Z" fill="#E68C25" stroke="#E68C25" stroke-width="1.45" stroke-linejoin="miter"/>
<path d="M249.92,501.13L253.22,495.63L256.52,501.13Z" fill="#E68C25" stroke="#E68C25" stroke-width="1.45" stroke-linejoin="miter"/>
<path d="M252.94,501.13L256.24,495.63L259.54,501.13Z" fill="#E68C25" stroke="#E68C25" stroke-width="1.45" stroke-linejoin="miter"/>
<path d="M255.96,501.13L259.26,495.63L262.56,501.13Z" fill="#E68C25" stroke="#E68C25" stroke-width="1.45" stroke-linejoin="miter"/>
<path d="M258.97,501.13L262.27,495.63L265.57,501.13Z" fill="#E68C25" stroke="#E68C25" stroke-width="1.45" stroke-linejoin="miter"/>
<path d="M261.99,501.13L265.29,495.63L268.59,501.13Z" fill="#E68C25" stroke="#E68C25" stroke-width="1.45" stroke-linejoin="miter"/>
<path d="M265.01,501.13L268.31,495.63L271.61,501.13Z" fill="#E68C25" stroke="#E68C25" stroke-width="1.45" stroke-linejoin="miter"/>
<path d="M268.03,501.13L271.33,495.63L274.63,501.13Z" fill="#E68C25" stroke="#E68C25" stroke-width="1.45" stroke-linejoin="miter"/>
<path d="M271.04,501.13L274.34,495.63L277.64,501.13Z" fill="#E68C25" stroke="#E68C25" stroke-width="1.45" stroke-linejoin="miter"/>
<path d="M274.06,501.13L277.36,495.63L280.66,501.13Z" fill="#E68C25" stroke="#E68C25" stroke-width="1.45" stroke-linejoin="miter"/>
<path d="M277.08,501.13L280.38,495.63L283.68,501.13Z" fill="#E68C25" stroke="#E68C25" stroke-width="1.45" stroke-linejoin="miter"/>
<path d="M280.10,501.13L283.40,495.63L286.70,501.13Z" fill="#E68C25" stroke="#E68C25" stroke-width="1.45" stroke-linejoin="miter"/>
<path d="M283.11,501.13L286.41,495.63L289.71,501.13Z" fill="#E68C25" stroke="#E68C25" stroke-width="1.45" stroke-linejoin="miter"/>
<path d="M286.13,501.13L289.43,495.63L292.73,501.13Z" fill="#E68C25" stroke="#E68C25" stroke-width="1.45" stroke-linejoin="miter"/>
<path d="M289.15,501.13L292.45,495.63L295.75,501.13Z" fill="#E68C25" stroke="#E68C25" stroke-width="1.45" stroke-linejoin="miter"/>
<path d="M292.17,501.13L295.47,495.63L298.77,501.13Z" fill="#E68C25" stroke="#E68C25" stroke-width="1.45" stroke-linejoin="miter"/>
<path d="M295.18,501.13L298.48,495.63L301.78,501.13Z" fill="#E68C25" stroke="#E68C25" stroke-width="1.45" stroke-linejoin="miter"/>
<path d="M298.20,501.13L301.50,495.63L304.80,501.13Z" fill="#E68C25" stroke="#E68C25" stroke-width="1.45" stroke-linejoin="miter"/>
<path d="M299.90,499.23L303.20,493.73L306.50,499.23Z" fill="#E68C25" stroke="#E68C25" stroke-width="1.45" stroke-linejoin="miter"/>
<path d="M301.30,489.03L304.60,483.53L307.90,489.03Z" fill="#E68C25" stroke="#E68C25" stroke-width="1.45" stroke-linejoin="miter"/>
<path d="M303.40,479.43L306.70,473.93L310.00,479.43Z" fill="#E68C25" stroke="#E68C25" stroke-width="1.45" stroke-linejoin="miter"/>
<path d="M306.00,469.63L309.30,464.13L312.60,469.63Z" fill="#E68C25" stroke="#E68C25" stroke-width="1.45" stroke-linejoin="miter"/>
<path d="M307.10,463.83L310.40,458.33L313.70,463.83Z" fill="#E68C25" stroke="#E68C25" stroke-width="1.45" stroke-linejoin="miter"/>
<polyline points="75.20,499.30 79.24,499.30 83.28,499.30 87.31,499.30 91.35,499.30 95.39,499.30 99.43,499.30 103.47,499.30 107.50,499.30 111.54,499.30 115.58,499.30 119.62,499.30 123.66,499.30 127.70,499.30 131.73,499.30 135.77,499.30 139.81,499.30 143.85,499.30 147.89,499.30 151.92,499.30 155.96,499.30 160.00,499.30 162.90,492.90 167.30,488.50 172.10,484.20 176.00,479.30 180.40,474.30 184.40,469.90 188.10,466.60 191.80,464.00 195.80,461.80" fill="none" stroke="#E68C25" stroke-width="1.4" stroke-linejoin="round"/>
<rect x="72.70" y="496.80" width="5.0" height="5.0" fill="#E68C25" stroke="#E68C25" stroke-width="1.45"/>
<rect x="76.74" y="496.80" width="5.0" height="5.0" fill="#E68C25" stroke="#E68C25" stroke-width="1.45"/>
<rect x="80.78" y="496.80" width="5.0" height="5.0" fill="#E68C25" stroke="#E68C25" stroke-width="1.45"/>
<rect x="84.81" y="496.80" width="5.0" height="5.0" fill="#E68C25" stroke="#E68C25" stroke-width="1.45"/>
<rect x="88.85" y="496.80" width="5.0" height="5.0" fill="#E68C25" stroke="#E68C25" stroke-width="1.45"/>
<rect x="92.89" y="496.80" width="5.0" height="5.0" fill="#E68C25" stroke="#E68C25" stroke-width="1.45"/>
<rect x="96.93" y="496.80" width="5.0" height="5.0" fill="#E68C25" stroke="#E68C25" stroke-width="1.45"/>
<rect x="100.97" y="496.80" width="5.0" height="5.0" fill="#E68C25" stroke="#E68C25" stroke-width="1.45"/>
<rect x="105.00" y="496.80" width="5.0" height="5.0" fill="#E68C25" stroke="#E68C25" stroke-width="1.45"/>
<rect x="109.04" y="496.80" width="5.0" height="5.0" fill="#E68C25" stroke="#E68C25" stroke-width="1.45"/>
<rect x="113.08" y="496.80" width="5.0" height="5.0" fill="#E68C25" stroke="#E68C25" stroke-width="1.45"/>
<rect x="117.12" y="496.80" width="5.0" height="5.0" fill="#E68C25" stroke="#E68C25" stroke-width="1.45"/>
<rect x="121.16" y="496.80" width="5.0" height="5.0" fill="#E68C25" stroke="#E68C25" stroke-width="1.45"/>
<rect x="125.20" y="496.80" width="5.0" height="5.0" fill="#E68C25" stroke="#E68C25" stroke-width="1.45"/>
<rect x="129.23" y="496.80" width="5.0" height="5.0" fill="#E68C25" stroke="#E68C25" stroke-width="1.45"/>
<rect x="133.27" y="496.80" width="5.0" height="5.0" fill="#E68C25" stroke="#E68C25" stroke-width="1.45"/>
<rect x="137.31" y="496.80" width="5.0" height="5.0" fill="#E68C25" stroke="#E68C25" stroke-width="1.45"/>
<rect x="141.35" y="496.80" width="5.0" height="5.0" fill="#E68C25" stroke="#E68C25" stroke-width="1.45"/>
<rect x="145.39" y="496.80" width="5.0" height="5.0" fill="#E68C25" stroke="#E68C25" stroke-width="1.45"/>
<rect x="149.42" y="496.80" width="5.0" height="5.0" fill="#E68C25" stroke="#E68C25" stroke-width="1.45"/>
<rect x="153.46" y="496.80" width="5.0" height="5.0" fill="#E68C25" stroke="#E68C25" stroke-width="1.45"/>
<rect x="157.50" y="496.80" width="5.0" height="5.0" fill="#E68C25" stroke="#E68C25" stroke-width="1.45"/>
<rect x="160.40" y="490.40" width="5.0" height="5.0" fill="#E68C25" stroke="#E68C25" stroke-width="1.45"/>
<rect x="164.80" y="486.00" width="5.0" height="5.0" fill="#E68C25" stroke="#E68C25" stroke-width="1.45"/>
<rect x="169.60" y="481.70" width="5.0" height="5.0" fill="#E68C25" stroke="#E68C25" stroke-width="1.45"/>
<rect x="173.50" y="476.80" width="5.0" height="5.0" fill="#E68C25" stroke="#E68C25" stroke-width="1.45"/>
<rect x="177.90" y="471.80" width="5.0" height="5.0" fill="#E68C25" stroke="#E68C25" stroke-width="1.45"/>
<rect x="181.90" y="467.40" width="5.0" height="5.0" fill="#E68C25" stroke="#E68C25" stroke-width="1.45"/>
<rect x="185.60" y="464.10" width="5.0" height="5.0" fill="#E68C25" stroke="#E68C25" stroke-width="1.45"/>
<rect x="189.30" y="461.50" width="5.0" height="5.0" fill="#E68C25" stroke="#E68C25" stroke-width="1.45"/>
<rect x="193.30" y="459.30" width="5.0" height="5.0" fill="#E68C25" stroke="#E68C25" stroke-width="1.45"/>
<polyline points="75.30,499.30 82.70,499.30 90.10,499.30 97.50,499.30 104.90,499.30 112.30,499.30 119.70,499.30 127.10,499.30 134.50,499.30 141.90,499.30 149.30,499.30 156.70,499.30 164.10,499.30 171.20,500.00 178.60,496.80 186.10,494.30 193.50,490.10 201.00,486.30 208.40,479.40 215.80,473.20 223.30,468.20 230.70,465.20 238.20,460.80 245.60,458.30 253.10,453.30 260.50,449.60 268.00,445.40 274.90,440.90 282.40,437.20 289.90,431.80 297.50,428.20 299.50,424.00" fill="none" stroke="#E68C25" stroke-width="1.4" stroke-linejoin="round"/>
<path d="M72.00,501.13L75.30,495.63L78.60,501.13Z" fill="#fff" stroke="#E68C25" stroke-width="1.45" stroke-linejoin="miter"/>
<path d="M79.40,501.13L82.70,495.63L86.00,501.13Z" fill="#fff" stroke="#E68C25" stroke-width="1.45" stroke-linejoin="miter"/>
<path d="M86.80,501.13L90.10,495.63L93.40,501.13Z" fill="#fff" stroke="#E68C25" stroke-width="1.45" stroke-linejoin="miter"/>
<path d="M94.20,501.13L97.50,495.63L100.80,501.13Z" fill="#fff" stroke="#E68C25" stroke-width="1.45" stroke-linejoin="miter"/>
<path d="M101.60,501.13L104.90,495.63L108.20,501.13Z" fill="#fff" stroke="#E68C25" stroke-width="1.45" stroke-linejoin="miter"/>
<path d="M109.00,501.13L112.30,495.63L115.60,501.13Z" fill="#fff" stroke="#E68C25" stroke-width="1.45" stroke-linejoin="miter"/>
<path d="M116.40,501.13L119.70,495.63L123.00,501.13Z" fill="#fff" stroke="#E68C25" stroke-width="1.45" stroke-linejoin="miter"/>
<path d="M123.80,501.13L127.10,495.63L130.40,501.13Z" fill="#fff" stroke="#E68C25" stroke-width="1.45" stroke-linejoin="miter"/>
<path d="M131.20,501.13L134.50,495.63L137.80,501.13Z" fill="#fff" stroke="#E68C25" stroke-width="1.45" stroke-linejoin="miter"/>
<path d="M138.60,501.13L141.90,495.63L145.20,501.13Z" fill="#fff" stroke="#E68C25" stroke-width="1.45" stroke-linejoin="miter"/>
<path d="M146.00,501.13L149.30,495.63L152.60,501.13Z" fill="#fff" stroke="#E68C25" stroke-width="1.45" stroke-linejoin="miter"/>
<path d="M153.40,501.13L156.70,495.63L160.00,501.13Z" fill="#fff" stroke="#E68C25" stroke-width="1.45" stroke-linejoin="miter"/>
<path d="M160.80,501.13L164.10,495.63L167.40,501.13Z" fill="#fff" stroke="#E68C25" stroke-width="1.45" stroke-linejoin="miter"/>
<path d="M167.90,501.83L171.20,496.33L174.50,501.83Z" fill="#fff" stroke="#E68C25" stroke-width="1.45" stroke-linejoin="miter"/>
<path d="M175.30,498.63L178.60,493.13L181.90,498.63Z" fill="#fff" stroke="#E68C25" stroke-width="1.45" stroke-linejoin="miter"/>
<path d="M182.80,496.13L186.10,490.63L189.40,496.13Z" fill="#fff" stroke="#E68C25" stroke-width="1.45" stroke-linejoin="miter"/>
<path d="M190.20,491.93L193.50,486.43L196.80,491.93Z" fill="#fff" stroke="#E68C25" stroke-width="1.45" stroke-linejoin="miter"/>
<path d="M197.70,488.13L201.00,482.63L204.30,488.13Z" fill="#fff" stroke="#E68C25" stroke-width="1.45" stroke-linejoin="miter"/>
<path d="M205.10,481.23L208.40,475.73L211.70,481.23Z" fill="#fff" stroke="#E68C25" stroke-width="1.45" stroke-linejoin="miter"/>
<path d="M212.50,475.03L215.80,469.53L219.10,475.03Z" fill="#fff" stroke="#E68C25" stroke-width="1.45" stroke-linejoin="miter"/>
<path d="M220.00,470.03L223.30,464.53L226.60,470.03Z" fill="#fff" stroke="#E68C25" stroke-width="1.45" stroke-linejoin="miter"/>
<path d="M227.40,467.03L230.70,461.53L234.00,467.03Z" fill="#fff" stroke="#E68C25" stroke-width="1.45" stroke-linejoin="miter"/>
<path d="M234.90,462.63L238.20,457.13L241.50,462.63Z" fill="#fff" stroke="#E68C25" stroke-width="1.45" stroke-linejoin="miter"/>
<path d="M242.30,460.13L245.60,454.63L248.90,460.13Z" fill="#fff" stroke="#E68C25" stroke-width="1.45" stroke-linejoin="miter"/>
<path d="M249.80,455.13L253.10,449.63L256.40,455.13Z" fill="#fff" stroke="#E68C25" stroke-width="1.45" stroke-linejoin="miter"/>
<path d="M257.20,451.43L260.50,445.93L263.80,451.43Z" fill="#fff" stroke="#E68C25" stroke-width="1.45" stroke-linejoin="miter"/>
<path d="M264.70,447.23L268.00,441.73L271.30,447.23Z" fill="#fff" stroke="#E68C25" stroke-width="1.45" stroke-linejoin="miter"/>
<path d="M271.60,442.73L274.90,437.23L278.20,442.73Z" fill="#fff" stroke="#E68C25" stroke-width="1.45" stroke-linejoin="miter"/>
<path d="M279.10,439.03L282.40,433.53L285.70,439.03Z" fill="#fff" stroke="#E68C25" stroke-width="1.45" stroke-linejoin="miter"/>
<path d="M286.60,433.63L289.90,428.13L293.20,433.63Z" fill="#fff" stroke="#E68C25" stroke-width="1.45" stroke-linejoin="miter"/>
<path d="M294.20,430.03L297.50,424.53L300.80,430.03Z" fill="#fff" stroke="#E68C25" stroke-width="1.45" stroke-linejoin="miter"/>
<path d="M296.20,425.83L299.50,420.33L302.80,425.83Z" fill="#fff" stroke="#E68C25" stroke-width="1.45" stroke-linejoin="miter"/>
<polyline points="80.00,499.30 80.00,463.80 83.70,462.00 91.60,461.00 99.40,459.00 107.10,456.30 114.70,453.50 122.80,450.20 130.50,446.90 138.20,443.00 145.80,439.30 153.70,435.50 161.20,430.10 169.00,424.60 176.70,422.80 184.40,421.70 192.00,419.60 195.80,418.50" fill="none" stroke="#E68C25" stroke-width="1.4" stroke-linejoin="round"/>
<rect x="81.20" y="459.50" width="5.0" height="5.0" fill="#fff" stroke="#E68C25" stroke-width="1.45"/>
<rect x="89.10" y="458.50" width="5.0" height="5.0" fill="#fff" stroke="#E68C25" stroke-width="1.45"/>
<rect x="96.90" y="456.50" width="5.0" height="5.0" fill="#fff" stroke="#E68C25" stroke-width="1.45"/>
<rect x="104.60" y="453.80" width="5.0" height="5.0" fill="#fff" stroke="#E68C25" stroke-width="1.45"/>
<rect x="112.20" y="451.00" width="5.0" height="5.0" fill="#fff" stroke="#E68C25" stroke-width="1.45"/>
<rect x="120.30" y="447.70" width="5.0" height="5.0" fill="#fff" stroke="#E68C25" stroke-width="1.45"/>
<rect x="128.00" y="444.40" width="5.0" height="5.0" fill="#fff" stroke="#E68C25" stroke-width="1.45"/>
<rect x="135.70" y="440.50" width="5.0" height="5.0" fill="#fff" stroke="#E68C25" stroke-width="1.45"/>
<rect x="143.30" y="436.80" width="5.0" height="5.0" fill="#fff" stroke="#E68C25" stroke-width="1.45"/>
<rect x="151.20" y="433.00" width="5.0" height="5.0" fill="#fff" stroke="#E68C25" stroke-width="1.45"/>
<rect x="158.70" y="427.60" width="5.0" height="5.0" fill="#fff" stroke="#E68C25" stroke-width="1.45"/>
<rect x="166.50" y="422.10" width="5.0" height="5.0" fill="#fff" stroke="#E68C25" stroke-width="1.45"/>
<rect x="174.20" y="420.30" width="5.0" height="5.0" fill="#fff" stroke="#E68C25" stroke-width="1.45"/>
<rect x="181.90" y="419.20" width="5.0" height="5.0" fill="#fff" stroke="#E68C25" stroke-width="1.45"/>
<rect x="189.50" y="417.10" width="5.0" height="5.0" fill="#fff" stroke="#E68C25" stroke-width="1.45"/>
<rect x="193.30" y="416.00" width="5.0" height="5.0" fill="#fff" stroke="#E68C25" stroke-width="1.45"/>
<path d="M69.10,404.80V499.40M66.70,404.80H71.50M66.70,499.40H71.50" stroke="#000" stroke-width="1.6" fill="none"/>
<path d="M161.40,404.80V499.40M159.00,404.80H163.80M159.00,499.40H163.80" stroke="#000" stroke-width="1.6" fill="none"/>
<text x="120.70" y="400.50" font-size="12.4" text-anchor="start" fill="#000" textLength="81.30" lengthAdjust="spacingAndGlyphs"  stroke="#000">ΔNO &lt; 50 ppm</text>
<text transform="translate(64.6,476.1) rotate(-90)" font-size="12.2" textLength="41.4" lengthAdjust="spacingAndGlyphs" stroke="#000">50 ppm</text>
<path d="M56.10,303.70H90.50M95.70,303.70H130.10" stroke="#E68C25" stroke-width="1.7"/>
<g transform="translate(73.50,303.70) scale(0.88)"><path d="M-3.30,1.83L0.00,-3.67L3.30,1.83Z" fill="#E68C25" stroke="#E68C25" stroke-width="1.45" stroke-linejoin="miter"/></g>
<g transform="translate(112.90,303.70) scale(0.88)"><path d="M-3.30,1.83L0.00,-3.67L3.30,1.83Z" fill="#fff" stroke="#E68C25" stroke-width="1.45" stroke-linejoin="miter"/></g>
<path d="M56.10,323.00H90.50M95.70,323.00H130.10" stroke="#E68C25" stroke-width="1.7"/>
<g transform="translate(73.50,323.00) scale(0.88)"><rect x="-2.50" y="-2.50" width="5.0" height="5.0" fill="#E68C25" stroke="#E68C25" stroke-width="1.45"/></g>
<g transform="translate(112.90,323.00) scale(0.88)"><rect x="-2.50" y="-2.50" width="5.0" height="5.0" fill="#fff" stroke="#E68C25" stroke-width="1.45"/></g>
<text x="136.00" y="308.50" font-size="12" textLength="68.3" lengthAdjust="spacingAndGlyphs" stroke="#000">NO<tspan font-size="8.5" dy="3">2</tspan><tspan dy="-3">/N</tspan><tspan font-size="8.5" dy="3">2</tspan><tspan dy="-3"> ads.</tspan></text>
<text x="136.00" y="327.20" font-size="12" textLength="91.5" lengthAdjust="spacingAndGlyphs" stroke="#000">NO<tspan font-size="8.5" dy="3">2</tspan><tspan dy="-3">/NO/N</tspan><tspan font-size="8.5" dy="3">2</tspan><tspan dy="-3"> ads.</tspan></text>
<text x="56.80" y="347.40" font-size="12" textLength="216.8" lengthAdjust="spacingAndGlyphs" stroke="#000">Solid symbol: NO<tspan font-size="8.5" dy="3">2</tspan><tspan dy="-3"> breakthrough curve</tspan></text>
<text x="56.80" y="365.80" font-size="12" textLength="261.8" lengthAdjust="spacingAndGlyphs" stroke="#000">Open symbol: NO release/breakthrough curve</text>
<text x="321.20" y="308.60" font-size="12.2" text-anchor="end" fill="#E8892A" textLength="54.20" lengthAdjust="spacingAndGlyphs" stroke="#E8892A">Mn-LTA-3</text>
<text x="143.10" y="552.70" font-size="13.9" textLength="90.50" lengthAdjust="spacingAndGlyphs" stroke="#000">Time (min g<tspan font-size="10.3" dy="-6.3">-1</tspan><tspan dy="6.3">)</tspan></text>
<text transform="translate(13.20,501.60) rotate(-90)" x="0" y="0" font-size="15" textLength="182.2" lengthAdjust="spacingAndGlyphs" stroke="#000">Concentration of NO<tspan font-size="10" dy="3.8">x</tspan><tspan dy="-3.8"> (ppm)</tspan></text>
<text x="0.30" y="307.60" font-size="33.2" textLength="15.20" lengthAdjust="spacingAndGlyphs" stroke="#000">c</text>
<rect x="407.30" y="291.30" width="275.10" height="221.60" fill="none" stroke="#000" stroke-width="2.15"/>
<path d="M402.50,499.40H407.3" stroke="#000" stroke-width="1.8"/>
<text x="400.60" y="502.64" font-size="12.5" text-anchor="end" fill="#000"  stroke="#000">0</text>
<path d="M402.50,451.90H407.3" stroke="#000" stroke-width="1.8"/>
<text x="400.60" y="455.14" font-size="12.5" text-anchor="end" fill="#000"  stroke="#000">25</text>
<path d="M402.50,404.40H407.3" stroke="#000" stroke-width="1.8"/>
<text x="400.60" y="407.64" font-size="12.5" text-anchor="end" fill="#000"  stroke="#000">50</text>
<path d="M402.50,356.90H407.3" stroke="#000" stroke-width="1.8"/>
<text x="400.60" y="360.14" font-size="12.5" text-anchor="end" fill="#000"  stroke="#000">75</text>
<path d="M402.50,309.40H407.3" stroke="#000" stroke-width="1.8"/>
<text x="400.60" y="312.64" font-size="12.5" text-anchor="end" fill="#000"  stroke="#000">100</text>
<path d="M405.00,475.65H407.3" stroke="#000" stroke-width="1.8"/>
<path d="M405.00,428.15H407.3" stroke="#000" stroke-width="1.8"/>
<path d="M405.00,380.65H407.3" stroke="#000" stroke-width="1.8"/>
<path d="M405.00,333.15H407.3" stroke="#000" stroke-width="1.8"/>
<path d="M431.70,512.9V517.70" stroke="#000" stroke-width="1.8"/>
<text x="431.70" y="530.20" font-size="12.5" text-anchor="middle" fill="#000"  stroke="#000">0</text>
<path d="M470.23,512.9V517.70" stroke="#000" stroke-width="1.8"/>
<text x="470.23" y="530.20" font-size="12.5" text-anchor="middle" fill="#000"  stroke="#000">100</text>
<path d="M508.76,512.9V517.70" stroke="#000" stroke-width="1.8"/>
<text x="508.76" y="530.20" font-size="12.5" text-anchor="middle" fill="#000"  stroke="#000">200</text>
<path d="M547.29,512.9V517.70" stroke="#000" stroke-width="1.8"/>
<text x="547.29" y="530.20" font-size="12.5" text-anchor="middle" fill="#000"  stroke="#000">300</text>
<path d="M585.82,512.9V517.70" stroke="#000" stroke-width="1.8"/>
<text x="585.82" y="530.20" font-size="12.5" text-anchor="middle" fill="#000"  stroke="#000">400</text>
<path d="M624.35,512.9V517.70" stroke="#000" stroke-width="1.8"/>
<text x="624.35" y="530.20" font-size="12.5" text-anchor="middle" fill="#000"  stroke="#000">500</text>
<path d="M662.88,512.9V517.70" stroke="#000" stroke-width="1.8"/>
<text x="662.88" y="530.20" font-size="12.5" text-anchor="middle" fill="#000"  stroke="#000">600</text>
<path d="M412.44,512.9V515.20" stroke="#000" stroke-width="1.8"/>
<path d="M450.96,512.9V515.20" stroke="#000" stroke-width="1.8"/>
<path d="M489.50,512.9V515.20" stroke="#000" stroke-width="1.8"/>
<path d="M528.02,512.9V515.20" stroke="#000" stroke-width="1.8"/>
<path d="M566.55,512.9V515.20" stroke="#000" stroke-width="1.8"/>
<path d="M605.09,512.9V515.20" stroke="#000" stroke-width="1.8"/>
<path d="M643.62,512.9V515.20" stroke="#000" stroke-width="1.8"/>
<path d="M682.14,512.9V515.20" stroke="#000" stroke-width="1.8"/>
<polyline points="431.70,499.40 435.93,499.40 440.17,499.40 444.40,499.40 448.63,499.40 452.87,499.40 457.10,499.40 461.33,499.40 465.57,499.40 469.80,499.40 474.03,499.40 478.27,499.40 482.50,499.40 486.73,499.40 490.97,499.40 495.20,499.40 499.43,499.40 503.67,499.40 507.90,499.40 512.13,499.40 516.37,499.40 520.60,499.40 524.83,499.40 529.07,499.40 533.30,499.40 537.53,499.40 541.77,499.40 546.00,499.40 549.20,494.30 553.50,487.80 557.80,479.20 561.70,469.60 565.60,460.50" fill="none" stroke="#9873D3" stroke-width="1.4" stroke-linejoin="round"/>
<rect x="429.20" y="496.90" width="5.0" height="5.0" fill="#9873D3" stroke="#9873D3" stroke-width="1.45"/>
<rect x="433.43" y="496.90" width="5.0" height="5.0" fill="#9873D3" stroke="#9873D3" stroke-width="1.45"/>
<rect x="437.67" y="496.90" width="5.0" height="5.0" fill="#9873D3" stroke="#9873D3" stroke-width="1.45"/>
<rect x="441.90" y="496.90" width="5.0" height="5.0" fill="#9873D3" stroke="#9873D3" stroke-width="1.45"/>
<rect x="446.13" y="496.90" width="5.0" height="5.0" fill="#9873D3" stroke="#9873D3" stroke-width="1.45"/>
<rect x="450.37" y="496.90" width="5.0" height="5.0" fill="#9873D3" stroke="#9873D3" stroke-width="1.45"/>
<rect x="454.60" y="496.90" width="5.0" height="5.0" fill="#9873D3" stroke="#9873D3" stroke-width="1.45"/>
<rect x="458.83" y="496.90" width="5.0" height="5.0" fill="#9873D3" stroke="#9873D3" stroke-width="1.45"/>
<rect x="463.07" y="496.90" width="5.0" height="5.0" fill="#9873D3" stroke="#9873D3" stroke-width="1.45"/>
<rect x="467.30" y="496.90" width="5.0" height="5.0" fill="#9873D3" stroke="#9873D3" stroke-width="1.45"/>
<rect x="471.53" y="496.90" width="5.0" height="5.0" fill="#9873D3" stroke="#9873D3" stroke-width="1.45"/>
<rect x="475.77" y="496.90" width="5.0" height="5.0" fill="#9873D3" stroke="#9873D3" stroke-width="1.45"/>
<rect x="480.00" y="496.90" width="5.0" height="5.0" fill="#9873D3" stroke="#9873D3" stroke-width="1.45"/>
<rect x="484.23" y="496.90" width="5.0" height="5.0" fill="#9873D3" stroke="#9873D3" stroke-width="1.45"/>
<rect x="488.47" y="496.90" width="5.0" height="5.0" fill="#9873D3" stroke="#9873D3" stroke-width="1.45"/>
<rect x="492.70" y="496.90" width="5.0" height="5.0" fill="#9873D3" stroke="#9873D3" stroke-width="1.45"/>
<rect x="496.93" y="496.90" width="5.0" height="5.0" fill="#9873D3" stroke="#9873D3" stroke-width="1.45"/>
<rect x="501.17" y="496.90" width="5.0" height="5.0" fill="#9873D3" stroke="#9873D3" stroke-width="1.45"/>
<rect x="505.40" y="496.90" width="5.0" height="5.0" fill="#9873D3" stroke="#9873D3" stroke-width="1.45"/>
<rect x="509.63" y="496.90" width="5.0" height="5.0" fill="#9873D3" stroke="#9873D3" stroke-width="1.45"/>
<rect x="513.87" y="496.90" width="5.0" height="5.0" fill="#9873D3" stroke="#9873D3" stroke-width="1.45"/>
<rect x="518.10" y="496.90" width="5.0" height="5.0" fill="#9873D3" stroke="#9873D3" stroke-width="1.45"/>
<rect x="522.33" y="496.90" width="5.0" height="5.0" fill="#9873D3" stroke="#9873D3" stroke-width="1.45"/>
<rect x="526.57" y="496.90" width="5.0" height="5.0" fill="#9873D3" stroke="#9873D3" stroke-width="1.45"/>
<rect x="530.80" y="496.90" width="5.0" height="5.0" fill="#9873D3" stroke="#9873D3" stroke-width="1.45"/>
<rect x="535.03" y="496.90" width="5.0" height="5.0" fill="#9873D3" stroke="#9873D3" stroke-width="1.45"/>
<rect x="539.27" y="496.90" width="5.0" height="5.0" fill="#9873D3" stroke="#9873D3" stroke-width="1.45"/>
<rect x="543.50" y="496.90" width="5.0" height="5.0" fill="#9873D3" stroke="#9873D3" stroke-width="1.45"/>
<rect x="546.70" y="491.80" width="5.0" height="5.0" fill="#9873D3" stroke="#9873D3" stroke-width="1.45"/>
<rect x="551.00" y="485.30" width="5.0" height="5.0" fill="#9873D3" stroke="#9873D3" stroke-width="1.45"/>
<rect x="555.30" y="476.70" width="5.0" height="5.0" fill="#9873D3" stroke="#9873D3" stroke-width="1.45"/>
<rect x="559.20" y="467.10" width="5.0" height="5.0" fill="#9873D3" stroke="#9873D3" stroke-width="1.45"/>
<rect x="563.10" y="458.00" width="5.0" height="5.0" fill="#9873D3" stroke="#9873D3" stroke-width="1.45"/>
<polyline points="431.70,499.40 434.87,499.40 438.04,499.40 441.21,499.40 444.38,499.40 447.56,499.40 450.73,499.40 453.90,499.40 457.07,499.40 460.24,499.40 463.41,499.40 466.58,499.40 469.75,499.40 472.93,499.40 476.10,499.40 479.27,499.40 482.44,499.40 485.61,499.40 488.78,499.40 491.95,499.40 495.12,499.40 498.30,499.40 501.47,499.40 504.64,499.40 507.81,499.40 510.98,499.40 514.15,499.40 517.32,499.40 520.49,499.40 523.67,499.40 526.84,499.40 530.01,499.40 533.18,499.40 536.35,499.40 539.52,499.40 542.69,499.40 545.86,499.40 549.03,499.40 552.21,499.40 555.38,499.40 558.55,499.40 561.72,499.40 564.89,499.40 568.06,499.40 571.23,499.40 574.40,499.40 577.58,499.40 580.75,499.40 583.92,499.40 587.09,499.40 590.26,499.40 593.43,499.40 596.60,499.40 599.77,499.40 602.95,499.40 606.12,499.40 609.29,499.40 612.46,499.40 615.63,499.40 618.80,499.40 621.97,499.40 625.14,499.40 628.32,499.40 631.49,499.40 634.66,499.40 637.83,499.40 641.00,499.40 644.90,496.20 646.10,490.30 647.80,481.80 648.80,472.40 650.50,462.20" fill="none" stroke="#9873D3" stroke-width="1.4" stroke-linejoin="round"/>
<path d="M428.40,501.23L431.70,495.73L435.00,501.23Z" fill="#9873D3" stroke="#9873D3" stroke-width="1.45" stroke-linejoin="miter"/>
<path d="M431.57,501.23L434.87,495.73L438.17,501.23Z" fill="#9873D3" stroke="#9873D3" stroke-width="1.45" stroke-linejoin="miter"/>
<path d="M434.74,501.23L438.04,495.73L441.34,501.23Z" fill="#9873D3" stroke="#9873D3" stroke-width="1.45" stroke-linejoin="miter"/>
<path d="M437.91,501.23L441.21,495.73L444.51,501.23Z" fill="#9873D3" stroke="#9873D3" stroke-width="1.45" stroke-linejoin="miter"/>
<path d="M441.08,501.23L444.38,495.73L447.68,501.23Z" fill="#9873D3" stroke="#9873D3" stroke-width="1.45" stroke-linejoin="miter"/>
<path d="M444.26,501.23L447.56,495.73L450.86,501.23Z" fill="#9873D3" stroke="#9873D3" stroke-width="1.45" stroke-linejoin="miter"/>
<path d="M447.43,501.23L450.73,495.73L454.03,501.23Z" fill="#9873D3" stroke="#9873D3" stroke-width="1.45" stroke-linejoin="miter"/>
<path d="M450.60,501.23L453.90,495.73L457.20,501.23Z" fill="#9873D3" stroke="#9873D3" stroke-width="1.45" stroke-linejoin="miter"/>
<path d="M453.77,501.23L457.07,495.73L460.37,501.23Z" fill="#9873D3" stroke="#9873D3" stroke-width="1.45" stroke-linejoin="miter"/>
<path d="M456.94,501.23L460.24,495.73L463.54,501.23Z" fill="#9873D3" stroke="#9873D3" stroke-width="1.45" stroke-linejoin="miter"/>
<path d="M460.11,501.23L463.41,495.73L466.71,501.23Z" fill="#9873D3" stroke="#9873D3" stroke-width="1.45" stroke-linejoin="miter"/>
<path d="M463.28,501.23L466.58,495.73L469.88,501.23Z" fill="#9873D3" stroke="#9873D3" stroke-width="1.45" stroke-linejoin="miter"/>
<path d="M466.45,501.23L469.75,495.73L473.05,501.23Z" fill="#9873D3" stroke="#9873D3" stroke-width="1.45" stroke-linejoin="miter"/>
<path d="M469.63,501.23L472.93,495.73L476.23,501.23Z" fill="#9873D3" stroke="#9873D3" stroke-width="1.45" stroke-linejoin="miter"/>
<path d="M472.80,501.23L476.10,495.73L479.40,501.23Z" fill="#9873D3" stroke="#9873D3" stroke-width="1.45" stroke-linejoin="miter"/>
<path d="M475.97,501.23L479.27,495.73L482.57,501.23Z" fill="#9873D3" stroke="#9873D3" stroke-width="1.45" stroke-linejoin="miter"/>
<path d="M479.14,501.23L482.44,495.73L485.74,501.23Z" fill="#9873D3" stroke="#9873D3" stroke-width="1.45" stroke-linejoin="miter"/>
<path d="M482.31,501.23L485.61,495.73L488.91,501.23Z" fill="#9873D3" stroke="#9873D3" stroke-width="1.45" stroke-linejoin="miter"/>
<path d="M485.48,501.23L488.78,495.73L492.08,501.23Z" fill="#9873D3" stroke="#9873D3" stroke-width="1.45" stroke-linejoin="miter"/>
<path d="M488.65,501.23L491.95,495.73L495.25,501.23Z" fill="#9873D3" stroke="#9873D3" stroke-width="1.45" stroke-linejoin="miter"/>
<path d="M491.82,501.23L495.12,495.73L498.42,501.23Z" fill="#9873D3" stroke="#9873D3" stroke-width="1.45" stroke-linejoin="miter"/>
<path d="M495.00,501.23L498.30,495.73L501.60,501.23Z" fill="#9873D3" stroke="#9873D3" stroke-width="1.45" stroke-linejoin="miter"/>
<path d="M498.17,501.23L501.47,495.73L504.77,501.23Z" fill="#9873D3" stroke="#9873D3" stroke-width="1.45" stroke-linejoin="miter"/>
<path d="M501.34,501.23L504.64,495.73L507.94,501.23Z" fill="#9873D3" stroke="#9873D3" stroke-width="1.45" stroke-linejoin="miter"/>
<path d="M504.51,501.23L507.81,495.73L511.11,501.23Z" fill="#9873D3" stroke="#9873D3" stroke-width="1.45" stroke-linejoin="miter"/>
<path d="M507.68,501.23L510.98,495.73L514.28,501.23Z" fill="#9873D3" stroke="#9873D3" stroke-width="1.45" stroke-linejoin="miter"/>
<path d="M510.85,501.23L514.15,495.73L517.45,501.23Z" fill="#9873D3" stroke="#9873D3" stroke-width="1.45" stroke-linejoin="miter"/>
<path d="M514.02,501.23L517.32,495.73L520.62,501.23Z" fill="#9873D3" stroke="#9873D3" stroke-width="1.45" stroke-linejoin="miter"/>
<path d="M517.19,501.23L520.49,495.73L523.79,501.23Z" fill="#9873D3" stroke="#9873D3" stroke-width="1.45" stroke-linejoin="miter"/>
<path d="M520.37,501.23L523.67,495.73L526.97,501.23Z" fill="#9873D3" stroke="#9873D3" stroke-width="1.45" stroke-linejoin="miter"/>
<path d="M523.54,501.23L526.84,495.73L530.14,501.23Z" fill="#9873D3" stroke="#9873D3" stroke-width="1.45" stroke-linejoin="miter"/>
<path d="M526.71,501.23L530.01,495.73L533.31,501.23Z" fill="#9873D3" stroke="#9873D3" stroke-width="1.45" stroke-linejoin="miter"/>
<path d="M529.88,501.23L533.18,495.73L536.48,501.23Z" fill="#9873D3" stroke="#9873D3" stroke-width="1.45" stroke-linejoin="miter"/>
<path d="M533.05,501.23L536.35,495.73L539.65,501.23Z" fill="#9873D3" stroke="#9873D3" stroke-width="1.45" stroke-linejoin="miter"/>
<path d="M536.22,501.23L539.52,495.73L542.82,501.23Z" fill="#9873D3" stroke="#9873D3" stroke-width="1.45" stroke-linejoin="miter"/>
<path d="M539.39,501.23L542.69,495.73L545.99,501.23Z" fill="#9873D3" stroke="#9873D3" stroke-width="1.45" stroke-linejoin="miter"/>
<path d="M542.56,501.23L545.86,495.73L549.16,501.23Z" fill="#9873D3" stroke="#9873D3" stroke-width="1.45" stroke-linejoin="miter"/>
<path d="M545.73,501.23L549.03,495.73L552.33,501.23Z" fill="#9873D3" stroke="#9873D3" stroke-width="1.45" stroke-linejoin="miter"/>
<path d="M548.91,501.23L552.21,495.73L555.51,501.23Z" fill="#9873D3" stroke="#9873D3" stroke-width="1.45" stroke-linejoin="miter"/>
<path d="M552.08,501.23L555.38,495.73L558.68,501.23Z" fill="#9873D3" stroke="#9873D3" stroke-width="1.45" stroke-linejoin="miter"/>
<path d="M555.25,501.23L558.55,495.73L561.85,501.23Z" fill="#9873D3" stroke="#9873D3" stroke-width="1.45" stroke-linejoin="miter"/>
<path d="M558.42,501.23L561.72,495.73L565.02,501.23Z" fill="#9873D3" stroke="#9873D3" stroke-width="1.45" stroke-linejoin="miter"/>
<path d="M561.59,501.23L564.89,495.73L568.19,501.23Z" fill="#9873D3" stroke="#9873D3" stroke-width="1.45" stroke-linejoin="miter"/>
<path d="M564.76,501.23L568.06,495.73L571.36,501.23Z" fill="#9873D3" stroke="#9873D3" stroke-width="1.45" stroke-linejoin="miter"/>
<path d="M567.93,501.23L571.23,495.73L574.53,501.23Z" fill="#9873D3" stroke="#9873D3" stroke-width="1.45" stroke-linejoin="miter"/>
<path d="M571.10,501.23L574.40,495.73L577.70,501.23Z" fill="#9873D3" stroke="#9873D3" stroke-width="1.45" stroke-linejoin="miter"/>
<path d="M574.28,501.23L577.58,495.73L580.88,501.23Z" fill="#9873D3" stroke="#9873D3" stroke-width="1.45" stroke-linejoin="miter"/>
<path d="M577.45,501.23L580.75,495.73L584.05,501.23Z" fill="#9873D3" stroke="#9873D3" stroke-width="1.45" stroke-linejoin="miter"/>
<path d="M580.62,501.23L583.92,495.73L587.22,501.23Z" fill="#9873D3" stroke="#9873D3" stroke-width="1.45" stroke-linejoin="miter"/>
<path d="M583.79,501.23L587.09,495.73L590.39,501.23Z" fill="#9873D3" stroke="#9873D3" stroke-width="1.45" stroke-linejoin="miter"/>
<path d="M586.96,501.23L590.26,495.73L593.56,501.23Z" fill="#9873D3" stroke="#9873D3" stroke-width="1.45" stroke-linejoin="miter"/>
<path d="M590.13,501.23L593.43,495.73L596.73,501.23Z" fill="#9873D3" stroke="#9873D3" stroke-width="1.45" stroke-linejoin="miter"/>
<path d="M593.30,501.23L596.60,495.73L599.90,501.23Z" fill="#9873D3" stroke="#9873D3" stroke-width="1.45" stroke-linejoin="miter"/>
<path d="M596.47,501.23L599.77,495.73L603.07,501.23Z" fill="#9873D3" stroke="#9873D3" stroke-width="1.45" stroke-linejoin="miter"/>
<path d="M599.65,501.23L602.95,495.73L606.25,501.23Z" fill="#9873D3" stroke="#9873D3" stroke-width="1.45" stroke-linejoin="miter"/>
<path d="M602.82,501.23L606.12,495.73L609.42,501.23Z" fill="#9873D3" stroke="#9873D3" stroke-width="1.45" stroke-linejoin="miter"/>
<path d="M605.99,501.23L609.29,495.73L612.59,501.23Z" fill="#9873D3" stroke="#9873D3" stroke-width="1.45" stroke-linejoin="miter"/>
<path d="M609.16,501.23L612.46,495.73L615.76,501.23Z" fill="#9873D3" stroke="#9873D3" stroke-width="1.45" stroke-linejoin="miter"/>
<path d="M612.33,501.23L615.63,495.73L618.93,501.23Z" fill="#9873D3" stroke="#9873D3" stroke-width="1.45" stroke-linejoin="miter"/>
<path d="M615.50,501.23L618.80,495.73L622.10,501.23Z" fill="#9873D3" stroke="#9873D3" stroke-width="1.45" stroke-linejoin="miter"/>
<path d="M618.67,501.23L621.97,495.73L625.27,501.23Z" fill="#9873D3" stroke="#9873D3" stroke-width="1.45" stroke-linejoin="miter"/>
<path d="M621.84,501.23L625.14,495.73L628.44,501.23Z" fill="#9873D3" stroke="#9873D3" stroke-width="1.45" stroke-linejoin="miter"/>
<path d="M625.02,501.23L628.32,495.73L631.62,501.23Z" fill="#9873D3" stroke="#9873D3" stroke-width="1.45" stroke-linejoin="miter"/>
<path d="M628.19,501.23L631.49,495.73L634.79,501.23Z" fill="#9873D3" stroke="#9873D3" stroke-width="1.45" stroke-linejoin="miter"/>
<path d="M631.36,501.23L634.66,495.73L637.96,501.23Z" fill="#9873D3" stroke="#9873D3" stroke-width="1.45" stroke-linejoin="miter"/>
<path d="M634.53,501.23L637.83,495.73L641.13,501.23Z" fill="#9873D3" stroke="#9873D3" stroke-width="1.45" stroke-linejoin="miter"/>
<path d="M637.70,501.23L641.00,495.73L644.30,501.23Z" fill="#9873D3" stroke="#9873D3" stroke-width="1.45" stroke-linejoin="miter"/>
<path d="M641.60,498.03L644.90,492.53L648.20,498.03Z" fill="#9873D3" stroke="#9873D3" stroke-width="1.45" stroke-linejoin="miter"/>
<path d="M642.80,492.13L646.10,486.63L649.40,492.13Z" fill="#9873D3" stroke="#9873D3" stroke-width="1.45" stroke-linejoin="miter"/>
<path d="M644.50,483.63L647.80,478.13L651.10,483.63Z" fill="#9873D3" stroke="#9873D3" stroke-width="1.45" stroke-linejoin="miter"/>
<path d="M645.50,474.23L648.80,468.73L652.10,474.23Z" fill="#9873D3" stroke="#9873D3" stroke-width="1.45" stroke-linejoin="miter"/>
<path d="M647.20,464.03L650.50,458.53L653.80,464.03Z" fill="#9873D3" stroke="#9873D3" stroke-width="1.45" stroke-linejoin="miter"/>
<polyline points="431.70,499.40 434.84,499.40 437.99,499.40 441.13,499.40 444.27,499.40 447.42,499.40 450.56,499.40 453.70,499.40 456.84,499.40 459.99,499.40 463.13,499.40 466.27,499.40 469.42,499.40 472.56,499.40 475.70,499.40 478.85,499.40 481.99,499.40 485.13,499.40 488.28,499.40 491.42,499.40 494.56,499.40 497.71,499.40 500.85,499.40 503.99,499.40 507.13,499.40 510.28,499.40 513.42,499.40 516.56,499.40 519.71,499.40 522.85,499.40 525.99,499.40 529.14,499.40 532.28,499.40 535.42,499.40 538.57,499.40 541.71,499.40 544.85,499.40 547.99,499.40 551.14,499.40 554.28,499.40 557.42,499.40 560.57,499.40 563.71,499.40 566.85,499.40 570.00,499.40 573.14,499.40 576.28,499.40 579.43,499.40 582.57,499.40 585.71,499.40 588.86,499.40 592.00,499.40 595.14,499.40 598.28,499.40 601.43,499.40 604.57,499.40 607.71,499.40 610.86,499.40 614.00,499.40 618.50,497.10 621.90,492.80 625.00,487.70 627.90,480.90 630.70,474.10 633.80,465.60 636.90,455.40 639.80,446.10 643.20,436.70 646.10,428.20 649.50,418.00 650.50,413.80" fill="none" stroke="#9873D3" stroke-width="1.4" stroke-linejoin="round"/>
<path d="M428.40,501.23L431.70,495.73L435.00,501.23Z" fill="#fff" stroke="#9873D3" stroke-width="1.45" stroke-linejoin="miter"/>
<path d="M431.54,501.23L434.84,495.73L438.14,501.23Z" fill="#fff" stroke="#9873D3" stroke-width="1.45" stroke-linejoin="miter"/>
<path d="M434.69,501.23L437.99,495.73L441.29,501.23Z" fill="#fff" stroke="#9873D3" stroke-width="1.45" stroke-linejoin="miter"/>
<path d="M437.83,501.23L441.13,495.73L444.43,501.23Z" fill="#fff" stroke="#9873D3" stroke-width="1.45" stroke-linejoin="miter"/>
<path d="M440.97,501.23L444.27,495.73L447.57,501.23Z" fill="#fff" stroke="#9873D3" stroke-width="1.45" stroke-linejoin="miter"/>
<path d="M444.12,501.23L447.42,495.73L450.72,501.23Z" fill="#fff" stroke="#9873D3" stroke-width="1.45" stroke-linejoin="miter"/>
<path d="M447.26,501.23L450.56,495.73L453.86,501.23Z" fill="#fff" stroke="#9873D3" stroke-width="1.45" stroke-linejoin="miter"/>
<path d="M450.40,501.23L453.70,495.73L457.00,501.23Z" fill="#fff" stroke="#9873D3" stroke-width="1.45" stroke-linejoin="miter"/>
<path d="M453.54,501.23L456.84,495.73L460.14,501.23Z" fill="#fff" stroke="#9873D3" stroke-width="1.45" stroke-linejoin="miter"/>
<path d="M456.69,501.23L459.99,495.73L463.29,501.23Z" fill="#fff" stroke="#9873D3" stroke-width="1.45" stroke-linejoin="miter"/>
<path d="M459.83,501.23L463.13,495.73L466.43,501.23Z" fill="#fff" stroke="#9873D3" stroke-width="1.45" stroke-linejoin="miter"/>
<path d="M462.97,501.23L466.27,495.73L469.57,501.23Z" fill="#fff" stroke="#9873D3" stroke-width="1.45" stroke-linejoin="miter"/>
<path d="M466.12,501.23L469.42,495.73L472.72,501.23Z" fill="#fff" stroke="#9873D3" stroke-width="1.45" stroke-linejoin="miter"/>
<path d="M469.26,501.23L472.56,495.73L475.86,501.23Z" fill="#fff" stroke="#9873D3" stroke-width="1.45" stroke-linejoin="miter"/>
<path d="M472.40,501.23L475.70,495.73L479.00,501.23Z" fill="#fff" stroke="#9873D3" stroke-width="1.45" stroke-linejoin="miter"/>
<path d="M475.55,501.23L478.85,495.73L482.15,501.23Z" fill="#fff" stroke="#9873D3" stroke-width="1.45" stroke-linejoin="miter"/>
<path d="M478.69,501.23L481.99,495.73L485.29,501.23Z" fill="#fff" stroke="#9873D3" stroke-width="1.45" stroke-linejoin="miter"/>
<path d="M481.83,501.23L485.13,495.73L488.43,501.23Z" fill="#fff" stroke="#9873D3" stroke-width="1.45" stroke-linejoin="miter"/>
<path d="M484.98,501.23L488.28,495.73L491.58,501.23Z" fill="#fff" stroke="#9873D3" stroke-width="1.45" stroke-linejoin="miter"/>
<path d="M488.12,501.23L491.42,495.73L494.72,501.23Z" fill="#fff" stroke="#9873D3" stroke-width="1.45" stroke-linejoin="miter"/>
<path d="M491.26,501.23L494.56,495.73L497.86,501.23Z" fill="#fff" stroke="#9873D3" stroke-width="1.45" stroke-linejoin="miter"/>
<path d="M494.41,501.23L497.71,495.73L501.01,501.23Z" fill="#fff" stroke="#9873D3" stroke-width="1.45" stroke-linejoin="miter"/>
<path d="M497.55,501.23L500.85,495.73L504.15,501.23Z" fill="#fff" stroke="#9873D3" stroke-width="1.45" stroke-linejoin="miter"/>
<path d="M500.69,501.23L503.99,495.73L507.29,501.23Z" fill="#fff" stroke="#9873D3" stroke-width="1.45" stroke-linejoin="miter"/>
<path d="M503.83,501.23L507.13,495.73L510.43,501.23Z" fill="#fff" stroke="#9873D3" stroke-width="1.45" stroke-linejoin="miter"/>
<path d="M506.98,501.23L510.28,495.73L513.58,501.23Z" fill="#fff" stroke="#9873D3" stroke-width="1.45" stroke-linejoin="miter"/>
<path d="M510.12,501.23L513.42,495.73L516.72,501.23Z" fill="#fff" stroke="#9873D3" stroke-width="1.45" stroke-linejoin="miter"/>
<path d="M513.26,501.23L516.56,495.73L519.86,501.23Z" fill="#fff" stroke="#9873D3" stroke-width="1.45" stroke-linejoin="miter"/>
<path d="M516.41,501.23L519.71,495.73L523.01,501.23Z" fill="#fff" stroke="#9873D3" stroke-width="1.45" stroke-linejoin="miter"/>
<path d="M519.55,501.23L522.85,495.73L526.15,501.23Z" fill="#fff" stroke="#9873D3" stroke-width="1.45" stroke-linejoin="miter"/>
<path d="M522.69,501.23L525.99,495.73L529.29,501.23Z" fill="#fff" stroke="#9873D3" stroke-width="1.45" stroke-linejoin="miter"/>
<path d="M525.84,501.23L529.14,495.73L532.44,501.23Z" fill="#fff" stroke="#9873D3" stroke-width="1.45" stroke-linejoin="miter"/>
<path d="M528.98,501.23L532.28,495.73L535.58,501.23Z" fill="#fff" stroke="#9873D3" stroke-width="1.45" stroke-linejoin="miter"/>
<path d="M532.12,501.23L535.42,495.73L538.72,501.23Z" fill="#fff" stroke="#9873D3" stroke-width="1.45" stroke-linejoin="miter"/>
<path d="M535.27,501.23L538.57,495.73L541.87,501.23Z" fill="#fff" stroke="#9873D3" stroke-width="1.45" stroke-linejoin="miter"/>
<path d="M538.41,501.23L541.71,495.73L545.01,501.23Z" fill="#fff" stroke="#9873D3" stroke-width="1.45" stroke-linejoin="miter"/>
<path d="M541.55,501.23L544.85,495.73L548.15,501.23Z" fill="#fff" stroke="#9873D3" stroke-width="1.45" stroke-linejoin="miter"/>
<path d="M544.69,501.23L547.99,495.73L551.29,501.23Z" fill="#fff" stroke="#9873D3" stroke-width="1.45" stroke-linejoin="miter"/>
<path d="M547.84,501.23L551.14,495.73L554.44,501.23Z" fill="#fff" stroke="#9873D3" stroke-width="1.45" stroke-linejoin="miter"/>
<path d="M550.98,501.23L554.28,495.73L557.58,501.23Z" fill="#fff" stroke="#9873D3" stroke-width="1.45" stroke-linejoin="miter"/>
<path d="M554.12,501.23L557.42,495.73L560.72,501.23Z" fill="#fff" stroke="#9873D3" stroke-width="1.45" stroke-linejoin="miter"/>
<path d="M557.27,501.23L560.57,495.73L563.87,501.23Z" fill="#fff" stroke="#9873D3" stroke-width="1.45" stroke-linejoin="miter"/>
<path d="M560.41,501.23L563.71,495.73L567.01,501.23Z" fill="#fff" stroke="#9873D3" stroke-width="1.45" stroke-linejoin="miter"/>
<path d="M563.55,501.23L566.85,495.73L570.15,501.23Z" fill="#fff" stroke="#9873D3" stroke-width="1.45" stroke-linejoin="miter"/>
<path d="M566.70,501.23L570.00,495.73L573.30,501.23Z" fill="#fff" stroke="#9873D3" stroke-width="1.45" stroke-linejoin="miter"/>
<path d="M569.84,501.23L573.14,495.73L576.44,501.23Z" fill="#fff" stroke="#9873D3" stroke-width="1.45" stroke-linejoin="miter"/>
<path d="M572.98,501.23L576.28,495.73L579.58,501.23Z" fill="#fff" stroke="#9873D3" stroke-width="1.45" stroke-linejoin="miter"/>
<path d="M576.13,501.23L579.43,495.73L582.73,501.23Z" fill="#fff" stroke="#9873D3" stroke-width="1.45" stroke-linejoin="miter"/>
<path d="M579.27,501.23L582.57,495.73L585.87,501.23Z" fill="#fff" stroke="#9873D3" stroke-width="1.45" stroke-linejoin="miter"/>
<path d="M582.41,501.23L585.71,495.73L589.01,501.23Z" fill="#fff" stroke="#9873D3" stroke-width="1.45" stroke-linejoin="miter"/>
<path d="M585.56,501.23L588.86,495.73L592.16,501.23Z" fill="#fff" stroke="#9873D3" stroke-width="1.45" stroke-linejoin="miter"/>
<path d="M588.70,501.23L592.00,495.73L595.30,501.23Z" fill="#fff" stroke="#9873D3" stroke-width="1.45" stroke-linejoin="miter"/>
<path d="M591.84,501.23L595.14,495.73L598.44,501.23Z" fill="#fff" stroke="#9873D3" stroke-width="1.45" stroke-linejoin="miter"/>
<path d="M594.98,501.23L598.28,495.73L601.58,501.23Z" fill="#fff" stroke="#9873D3" stroke-width="1.45" stroke-linejoin="miter"/>
<path d="M598.13,501.23L601.43,495.73L604.73,501.23Z" fill="#fff" stroke="#9873D3" stroke-width="1.45" stroke-linejoin="miter"/>
<path d="M601.27,501.23L604.57,495.73L607.87,501.23Z" fill="#fff" stroke="#9873D3" stroke-width="1.45" stroke-linejoin="miter"/>
<path d="M604.41,501.23L607.71,495.73L611.01,501.23Z" fill="#fff" stroke="#9873D3" stroke-width="1.45" stroke-linejoin="miter"/>
<path d="M607.56,501.23L610.86,495.73L614.16,501.23Z" fill="#fff" stroke="#9873D3" stroke-width="1.45" stroke-linejoin="miter"/>
<path d="M610.70,501.23L614.00,495.73L617.30,501.23Z" fill="#fff" stroke="#9873D3" stroke-width="1.45" stroke-linejoin="miter"/>
<path d="M615.20,498.93L618.50,493.43L621.80,498.93Z" fill="#fff" stroke="#9873D3" stroke-width="1.45" stroke-linejoin="miter"/>
<path d="M618.60,494.63L621.90,489.13L625.20,494.63Z" fill="#fff" stroke="#9873D3" stroke-width="1.45" stroke-linejoin="miter"/>
<path d="M621.70,489.53L625.00,484.03L628.30,489.53Z" fill="#fff" stroke="#9873D3" stroke-width="1.45" stroke-linejoin="miter"/>
<path d="M624.60,482.73L627.90,477.23L631.20,482.73Z" fill="#fff" stroke="#9873D3" stroke-width="1.45" stroke-linejoin="miter"/>
<path d="M627.40,475.93L630.70,470.43L634.00,475.93Z" fill="#fff" stroke="#9873D3" stroke-width="1.45" stroke-linejoin="miter"/>
<path d="M630.50,467.43L633.80,461.93L637.10,467.43Z" fill="#fff" stroke="#9873D3" stroke-width="1.45" stroke-linejoin="miter"/>
<path d="M633.60,457.23L636.90,451.73L640.20,457.23Z" fill="#fff" stroke="#9873D3" stroke-width="1.45" stroke-linejoin="miter"/>
<path d="M636.50,447.93L639.80,442.43L643.10,447.93Z" fill="#fff" stroke="#9873D3" stroke-width="1.45" stroke-linejoin="miter"/>
<path d="M639.90,438.53L643.20,433.03L646.50,438.53Z" fill="#fff" stroke="#9873D3" stroke-width="1.45" stroke-linejoin="miter"/>
<path d="M642.80,430.03L646.10,424.53L649.40,430.03Z" fill="#fff" stroke="#9873D3" stroke-width="1.45" stroke-linejoin="miter"/>
<path d="M646.20,419.83L649.50,414.33L652.80,419.83Z" fill="#fff" stroke="#9873D3" stroke-width="1.45" stroke-linejoin="miter"/>
<path d="M647.20,415.63L650.50,410.13L653.80,415.63Z" fill="#fff" stroke="#9873D3" stroke-width="1.45" stroke-linejoin="miter"/>
<polyline points="491.00,499.40 492.90,478.60 497.60,465.60 501.90,460.90 506.20,457.00 510.50,454.20 514.90,450.90 519.20,448.00 523.50,444.10 527.80,440.10 532.10,436.10 536.40,432.60 540.70,428.90 544.90,423.30 549.20,417.50 553.10,411.50 555.70,410.40" fill="none" stroke="#9873D3" stroke-width="1.4" stroke-linejoin="round"/>
<rect x="490.40" y="476.10" width="5.0" height="5.0" fill="#fff" stroke="#9873D3" stroke-width="1.45"/>
<rect x="495.10" y="463.10" width="5.0" height="5.0" fill="#fff" stroke="#9873D3" stroke-width="1.45"/>
<rect x="499.40" y="458.40" width="5.0" height="5.0" fill="#fff" stroke="#9873D3" stroke-width="1.45"/>
<rect x="503.70" y="454.50" width="5.0" height="5.0" fill="#fff" stroke="#9873D3" stroke-width="1.45"/>
<rect x="508.00" y="451.70" width="5.0" height="5.0" fill="#fff" stroke="#9873D3" stroke-width="1.45"/>
<rect x="512.40" y="448.40" width="5.0" height="5.0" fill="#fff" stroke="#9873D3" stroke-width="1.45"/>
<rect x="516.70" y="445.50" width="5.0" height="5.0" fill="#fff" stroke="#9873D3" stroke-width="1.45"/>
<rect x="521.00" y="441.60" width="5.0" height="5.0" fill="#fff" stroke="#9873D3" stroke-width="1.45"/>
<rect x="525.30" y="437.60" width="5.0" height="5.0" fill="#fff" stroke="#9873D3" stroke-width="1.45"/>
<rect x="529.60" y="433.60" width="5.0" height="5.0" fill="#fff" stroke="#9873D3" stroke-width="1.45"/>
<rect x="533.90" y="430.10" width="5.0" height="5.0" fill="#fff" stroke="#9873D3" stroke-width="1.45"/>
<rect x="538.20" y="426.40" width="5.0" height="5.0" fill="#fff" stroke="#9873D3" stroke-width="1.45"/>
<rect x="542.40" y="420.80" width="5.0" height="5.0" fill="#fff" stroke="#9873D3" stroke-width="1.45"/>
<rect x="546.70" y="415.00" width="5.0" height="5.0" fill="#fff" stroke="#9873D3" stroke-width="1.45"/>
<rect x="550.60" y="409.00" width="5.0" height="5.0" fill="#fff" stroke="#9873D3" stroke-width="1.45"/>
<rect x="553.20" y="407.90" width="5.0" height="5.0" fill="#fff" stroke="#9873D3" stroke-width="1.45"/>
<path d="M425.70,404.70V499.20M423.30,404.70H428.10M423.30,499.20H428.10" stroke="#000" stroke-width="1.6" fill="none"/>
<path d="M544.50,404.00V498.60M542.10,404.00H546.90M542.10,498.60H546.90" stroke="#000" stroke-width="1.6" fill="none"/>
<text x="503.40" y="398.10" font-size="12.4" text-anchor="start" fill="#000" textLength="81.90" lengthAdjust="spacingAndGlyphs"  stroke="#000">ΔNO &lt; 50 ppm</text>
<text transform="translate(421.5,477.0) rotate(-90)" font-size="12.2" textLength="41.3" lengthAdjust="spacingAndGlyphs" stroke="#000">50 ppm</text>
<path d="M413.50,303.90H447.90M453.10,303.90H487.50" stroke="#9873D3" stroke-width="1.7"/>
<g transform="translate(430.90,303.90) scale(0.9)"><path d="M-3.30,1.83L0.00,-3.67L3.30,1.83Z" fill="#9873D3" stroke="#9873D3" stroke-width="1.45" stroke-linejoin="miter"/></g>
<g transform="translate(470.30,303.90) scale(0.9)"><path d="M-3.30,1.83L0.00,-3.67L3.30,1.83Z" fill="#fff" stroke="#9873D3" stroke-width="1.45" stroke-linejoin="miter"/></g>
<path d="M413.50,323.20H447.90M453.10,323.20H487.50" stroke="#9873D3" stroke-width="1.7"/>
<g transform="translate(430.90,323.20) scale(0.9)"><rect x="-2.50" y="-2.50" width="5.0" height="5.0" fill="#9873D3" stroke="#9873D3" stroke-width="1.45"/></g>
<g transform="translate(470.30,323.20) scale(0.9)"><rect x="-2.50" y="-2.50" width="5.0" height="5.0" fill="#fff" stroke="#9873D3" stroke-width="1.45"/></g>
<text x="493.40" y="308.70" font-size="12" textLength="68.3" lengthAdjust="spacingAndGlyphs" stroke="#000">NO<tspan font-size="8.5" dy="3">2</tspan><tspan dy="-3">/N</tspan><tspan font-size="8.5" dy="3">2</tspan><tspan dy="-3"> ads.</tspan></text>
<text x="493.40" y="327.40" font-size="12" textLength="91.5" lengthAdjust="spacingAndGlyphs" stroke="#000">NO<tspan font-size="8.5" dy="3">2</tspan><tspan dy="-3">/NO/N</tspan><tspan font-size="8.5" dy="3">2</tspan><tspan dy="-3"> ads.</tspan></text>
<text x="414.20" y="347.60" font-size="12" textLength="216.8" lengthAdjust="spacingAndGlyphs" stroke="#000">Solid symbol: NO<tspan font-size="8.5" dy="3">2</tspan><tspan dy="-3"> breakthrough curve</tspan></text>
<text x="414.20" y="366.00" font-size="12" textLength="261.8" lengthAdjust="spacingAndGlyphs" stroke="#000">Open symbol: NO release/breakthrough curve</text>
<text x="677.40" y="308.80" font-size="12.2" text-anchor="end" fill="#7B40AA" textLength="46.80" lengthAdjust="spacingAndGlyphs" stroke="#7B40AA">Ni-LTA-3</text>
<text x="499.80" y="551.20" font-size="13.9" textLength="90.60" lengthAdjust="spacingAndGlyphs" stroke="#000">Time (min g<tspan font-size="10.3" dy="-6.3">-1</tspan><tspan dy="6.3">)</tspan></text>
<text transform="translate(370.40,501.60) rotate(-90)" x="0" y="0" font-size="15" textLength="182.2" lengthAdjust="spacingAndGlyphs" stroke="#000">Concentration of NO<tspan font-size="10" dy="3.8">x</tspan><tspan dy="-3.8"> (ppm)</tspan></text>
<text x="356.50" y="307.10" font-size="33.2" textLength="19.60" lengthAdjust="spacingAndGlyphs" stroke="#000">d</text>
</svg>
</body></html>
